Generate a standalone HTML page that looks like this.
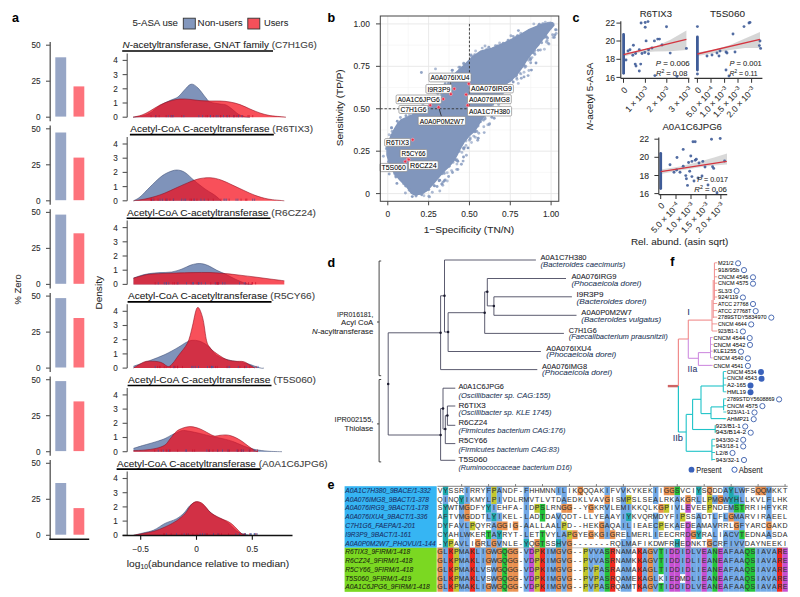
<!DOCTYPE html>
<html><head><meta charset="utf-8"><title>Figure</title>
<style>
html,body{margin:0;padding:0;background:#fff;}
body{width:800px;height:597px;overflow:hidden;}
svg{display:block;font-family:"Liberation Sans", sans-serif;}
text{stroke:rgba(20,20,20,0.35);stroke-width:0.22px;}
</style></head><body>
<svg width="800" height="597" viewBox="0 0 800 597" font-family='"Liberation Sans", sans-serif'>
<rect width="800" height="597" fill="#fff"/>
<text x="12.00" y="22.30" font-size="12.5" font-weight="bold" fill="#000" >a</text>
<text x="132.40" y="26.20" font-size="9.6" fill="#2b2b2b" textLength="45.60" lengthAdjust="spacingAndGlyphs" >5-ASA use</text>
<rect x="183.30" y="18.20" width="12.00" height="10.80" fill="#8397bd" stroke="#333" stroke-width="0.9"/>
<text x="197.60" y="26.20" font-size="9.6" fill="#2b2b2b" textLength="45.00" lengthAdjust="spacingAndGlyphs" >Non-users</text>
<rect x="247.80" y="18.20" width="12.00" height="10.80" fill="#f5505a" stroke="#333" stroke-width="0.9"/>
<text x="264.00" y="26.20" font-size="9.6" fill="#2b2b2b" textLength="24.30" lengthAdjust="spacingAndGlyphs" >Users</text>
<line x1="50.20" y1="42.00" x2="50.20" y2="121.20" stroke="#555" stroke-width="1.3" />
<line x1="46.00" y1="117.20" x2="50.20" y2="117.20" stroke="#555" stroke-width="1.1" />
<text x="40.60" y="120.10" font-size="8.2" text-anchor="end" fill="#2b2b2b" >0</text>
<line x1="46.00" y1="81.20" x2="50.20" y2="81.20" stroke="#555" stroke-width="1.1" />
<text x="40.60" y="84.10" font-size="8.2" text-anchor="end" fill="#2b2b2b" >25</text>
<line x1="46.00" y1="45.20" x2="50.20" y2="45.20" stroke="#555" stroke-width="1.1" />
<text x="40.60" y="48.10" font-size="8.2" text-anchor="end" fill="#2b2b2b" >50</text>
<rect x="55.30" y="57.30" width="10.90" height="59.30" fill="#97a6c6" />
<rect x="73.50" y="86.40" width="10.80" height="30.20" fill="#fd737c" />
<line x1="127.20" y1="53.40" x2="127.20" y2="117.20" stroke="#555" stroke-width="1.1" />
<line x1="122.60" y1="117.20" x2="127.20" y2="117.20" stroke="#555" stroke-width="1.1" />
<text x="117.80" y="120.10" font-size="8.2" text-anchor="end" fill="#2b2b2b" >0</text>
<line x1="122.60" y1="103.00" x2="127.20" y2="103.00" stroke="#555" stroke-width="1.1" />
<text x="117.80" y="105.90" font-size="8.2" text-anchor="end" fill="#2b2b2b" >1</text>
<line x1="122.60" y1="88.80" x2="127.20" y2="88.80" stroke="#555" stroke-width="1.1" />
<text x="117.80" y="91.70" font-size="8.2" text-anchor="end" fill="#2b2b2b" >2</text>
<line x1="122.60" y1="74.60" x2="127.20" y2="74.60" stroke="#555" stroke-width="1.1" />
<text x="117.80" y="77.50" font-size="8.2" text-anchor="end" fill="#2b2b2b" >3</text>
<line x1="122.60" y1="60.40" x2="127.20" y2="60.40" stroke="#555" stroke-width="1.1" />
<text x="117.80" y="63.30" font-size="8.2" text-anchor="end" fill="#2b2b2b" >4</text>
<text x="122.60" y="48.40" font-size="9.7" fill="#1a1a1a" textLength="194.20" lengthAdjust="spacingAndGlyphs"><tspan font-style="italic">N</tspan>-acetyltransferase, GNAT family<tspan fill="#444"> (C7H1G6)</tspan></text>
<line x1="122.20" y1="51.00" x2="273.00" y2="51.00" stroke="#000" stroke-width="1.6" />
<line x1="50.20" y1="125.60" x2="50.20" y2="204.80" stroke="#555" stroke-width="1.3" />
<line x1="46.00" y1="200.80" x2="50.20" y2="200.80" stroke="#555" stroke-width="1.1" />
<text x="40.60" y="203.70" font-size="8.2" text-anchor="end" fill="#2b2b2b" >0</text>
<line x1="46.00" y1="164.80" x2="50.20" y2="164.80" stroke="#555" stroke-width="1.1" />
<text x="40.60" y="167.70" font-size="8.2" text-anchor="end" fill="#2b2b2b" >25</text>
<line x1="46.00" y1="128.80" x2="50.20" y2="128.80" stroke="#555" stroke-width="1.1" />
<text x="40.60" y="131.70" font-size="8.2" text-anchor="end" fill="#2b2b2b" >50</text>
<rect x="55.30" y="132.50" width="10.90" height="67.70" fill="#97a6c6" />
<rect x="73.50" y="157.60" width="10.80" height="42.60" fill="#fd737c" />
<line x1="127.20" y1="137.00" x2="127.20" y2="200.80" stroke="#555" stroke-width="1.1" />
<line x1="122.60" y1="200.80" x2="127.20" y2="200.80" stroke="#555" stroke-width="1.1" />
<text x="117.80" y="203.70" font-size="8.2" text-anchor="end" fill="#2b2b2b" >0</text>
<line x1="122.60" y1="186.60" x2="127.20" y2="186.60" stroke="#555" stroke-width="1.1" />
<text x="117.80" y="189.50" font-size="8.2" text-anchor="end" fill="#2b2b2b" >1</text>
<line x1="122.60" y1="172.40" x2="127.20" y2="172.40" stroke="#555" stroke-width="1.1" />
<text x="117.80" y="175.30" font-size="8.2" text-anchor="end" fill="#2b2b2b" >2</text>
<line x1="122.60" y1="158.20" x2="127.20" y2="158.20" stroke="#555" stroke-width="1.1" />
<text x="117.80" y="161.10" font-size="8.2" text-anchor="end" fill="#2b2b2b" >3</text>
<line x1="122.60" y1="144.00" x2="127.20" y2="144.00" stroke="#555" stroke-width="1.1" />
<text x="117.80" y="146.90" font-size="8.2" text-anchor="end" fill="#2b2b2b" >4</text>
<text x="130.30" y="132.00" font-size="9.7" fill="#1a1a1a" textLength="182.70" lengthAdjust="spacingAndGlyphs">Acetyl-CoA C-acetyltransferase<tspan fill="#444"> (R6TIX3)</tspan></text>
<line x1="129.90" y1="134.60" x2="273.80" y2="134.60" stroke="#000" stroke-width="1.6" />
<line x1="50.20" y1="209.20" x2="50.20" y2="288.40" stroke="#555" stroke-width="1.3" />
<line x1="46.00" y1="284.40" x2="50.20" y2="284.40" stroke="#555" stroke-width="1.1" />
<text x="40.60" y="287.30" font-size="8.2" text-anchor="end" fill="#2b2b2b" >0</text>
<line x1="46.00" y1="248.40" x2="50.20" y2="248.40" stroke="#555" stroke-width="1.1" />
<text x="40.60" y="251.30" font-size="8.2" text-anchor="end" fill="#2b2b2b" >25</text>
<line x1="46.00" y1="212.40" x2="50.20" y2="212.40" stroke="#555" stroke-width="1.1" />
<text x="40.60" y="215.30" font-size="8.2" text-anchor="end" fill="#2b2b2b" >50</text>
<rect x="55.30" y="214.60" width="10.90" height="69.20" fill="#97a6c6" />
<rect x="73.50" y="233.30" width="10.80" height="50.50" fill="#fd737c" />
<line x1="127.20" y1="220.60" x2="127.20" y2="284.40" stroke="#555" stroke-width="1.1" />
<line x1="122.60" y1="284.40" x2="127.20" y2="284.40" stroke="#555" stroke-width="1.1" />
<text x="117.80" y="287.30" font-size="8.2" text-anchor="end" fill="#2b2b2b" >0</text>
<line x1="122.60" y1="270.20" x2="127.20" y2="270.20" stroke="#555" stroke-width="1.1" />
<text x="117.80" y="273.10" font-size="8.2" text-anchor="end" fill="#2b2b2b" >1</text>
<line x1="122.60" y1="256.00" x2="127.20" y2="256.00" stroke="#555" stroke-width="1.1" />
<text x="117.80" y="258.90" font-size="8.2" text-anchor="end" fill="#2b2b2b" >2</text>
<line x1="122.60" y1="241.80" x2="127.20" y2="241.80" stroke="#555" stroke-width="1.1" />
<text x="117.80" y="244.70" font-size="8.2" text-anchor="end" fill="#2b2b2b" >3</text>
<line x1="122.60" y1="227.60" x2="127.20" y2="227.60" stroke="#555" stroke-width="1.1" />
<text x="117.80" y="230.50" font-size="8.2" text-anchor="end" fill="#2b2b2b" >4</text>
<text x="127.00" y="215.60" font-size="9.7" fill="#1a1a1a" textLength="189.00" lengthAdjust="spacingAndGlyphs">Acetyl-CoA C-acetyltransferase<tspan fill="#444"> (R6CZ24)</tspan></text>
<line x1="126.60" y1="218.20" x2="270.50" y2="218.20" stroke="#000" stroke-width="1.6" />
<line x1="50.20" y1="292.90" x2="50.20" y2="372.10" stroke="#555" stroke-width="1.3" />
<line x1="46.00" y1="368.10" x2="50.20" y2="368.10" stroke="#555" stroke-width="1.1" />
<text x="40.60" y="371.00" font-size="8.2" text-anchor="end" fill="#2b2b2b" >0</text>
<line x1="46.00" y1="332.10" x2="50.20" y2="332.10" stroke="#555" stroke-width="1.1" />
<text x="40.60" y="335.00" font-size="8.2" text-anchor="end" fill="#2b2b2b" >25</text>
<line x1="46.00" y1="296.10" x2="50.20" y2="296.10" stroke="#555" stroke-width="1.1" />
<text x="40.60" y="299.00" font-size="8.2" text-anchor="end" fill="#2b2b2b" >50</text>
<rect x="55.30" y="298.10" width="10.90" height="69.40" fill="#97a6c6" />
<rect x="73.50" y="318.00" width="10.80" height="49.50" fill="#fd737c" />
<line x1="127.20" y1="304.30" x2="127.20" y2="368.10" stroke="#555" stroke-width="1.1" />
<line x1="122.60" y1="368.10" x2="127.20" y2="368.10" stroke="#555" stroke-width="1.1" />
<text x="117.80" y="371.00" font-size="8.2" text-anchor="end" fill="#2b2b2b" >0</text>
<line x1="122.60" y1="353.90" x2="127.20" y2="353.90" stroke="#555" stroke-width="1.1" />
<text x="117.80" y="356.80" font-size="8.2" text-anchor="end" fill="#2b2b2b" >1</text>
<line x1="122.60" y1="339.70" x2="127.20" y2="339.70" stroke="#555" stroke-width="1.1" />
<text x="117.80" y="342.60" font-size="8.2" text-anchor="end" fill="#2b2b2b" >2</text>
<line x1="122.60" y1="325.50" x2="127.20" y2="325.50" stroke="#555" stroke-width="1.1" />
<text x="117.80" y="328.40" font-size="8.2" text-anchor="end" fill="#2b2b2b" >3</text>
<line x1="122.60" y1="311.30" x2="127.20" y2="311.30" stroke="#555" stroke-width="1.1" />
<text x="117.80" y="314.20" font-size="8.2" text-anchor="end" fill="#2b2b2b" >4</text>
<text x="128.00" y="299.30" font-size="9.7" fill="#1a1a1a" textLength="187.00" lengthAdjust="spacingAndGlyphs">Acetyl-CoA C-acetyltransferase<tspan fill="#444"> (R5CY66)</tspan></text>
<line x1="127.60" y1="301.90" x2="271.50" y2="301.90" stroke="#000" stroke-width="1.6" />
<line x1="50.20" y1="376.50" x2="50.20" y2="455.70" stroke="#555" stroke-width="1.3" />
<line x1="46.00" y1="451.70" x2="50.20" y2="451.70" stroke="#555" stroke-width="1.1" />
<text x="40.60" y="454.60" font-size="8.2" text-anchor="end" fill="#2b2b2b" >0</text>
<line x1="46.00" y1="415.70" x2="50.20" y2="415.70" stroke="#555" stroke-width="1.1" />
<text x="40.60" y="418.60" font-size="8.2" text-anchor="end" fill="#2b2b2b" >25</text>
<line x1="46.00" y1="379.70" x2="50.20" y2="379.70" stroke="#555" stroke-width="1.1" />
<text x="40.60" y="382.60" font-size="8.2" text-anchor="end" fill="#2b2b2b" >50</text>
<rect x="55.30" y="381.10" width="10.90" height="70.00" fill="#97a6c6" />
<rect x="73.50" y="401.40" width="10.80" height="49.70" fill="#fd737c" />
<line x1="127.20" y1="387.90" x2="127.20" y2="451.70" stroke="#555" stroke-width="1.1" />
<line x1="122.60" y1="451.70" x2="127.20" y2="451.70" stroke="#555" stroke-width="1.1" />
<text x="117.80" y="454.60" font-size="8.2" text-anchor="end" fill="#2b2b2b" >0</text>
<line x1="122.60" y1="437.50" x2="127.20" y2="437.50" stroke="#555" stroke-width="1.1" />
<text x="117.80" y="440.40" font-size="8.2" text-anchor="end" fill="#2b2b2b" >1</text>
<line x1="122.60" y1="423.30" x2="127.20" y2="423.30" stroke="#555" stroke-width="1.1" />
<text x="117.80" y="426.20" font-size="8.2" text-anchor="end" fill="#2b2b2b" >2</text>
<line x1="122.60" y1="409.10" x2="127.20" y2="409.10" stroke="#555" stroke-width="1.1" />
<text x="117.80" y="412.00" font-size="8.2" text-anchor="end" fill="#2b2b2b" >3</text>
<line x1="122.60" y1="394.90" x2="127.20" y2="394.90" stroke="#555" stroke-width="1.1" />
<text x="117.80" y="397.80" font-size="8.2" text-anchor="end" fill="#2b2b2b" >4</text>
<text x="128.00" y="382.90" font-size="9.7" fill="#1a1a1a" textLength="188.00" lengthAdjust="spacingAndGlyphs">Acetyl-CoA C-acetyltransferase<tspan fill="#444"> (T5S060)</tspan></text>
<line x1="127.60" y1="385.50" x2="271.50" y2="385.50" stroke="#000" stroke-width="1.6" />
<line x1="50.20" y1="460.10" x2="50.20" y2="539.30" stroke="#555" stroke-width="1.3" />
<line x1="46.00" y1="535.30" x2="50.20" y2="535.30" stroke="#555" stroke-width="1.1" />
<text x="40.60" y="538.20" font-size="8.2" text-anchor="end" fill="#2b2b2b" >0</text>
<line x1="46.00" y1="499.30" x2="50.20" y2="499.30" stroke="#555" stroke-width="1.1" />
<text x="40.60" y="502.20" font-size="8.2" text-anchor="end" fill="#2b2b2b" >25</text>
<line x1="46.00" y1="463.30" x2="50.20" y2="463.30" stroke="#555" stroke-width="1.1" />
<text x="40.60" y="466.20" font-size="8.2" text-anchor="end" fill="#2b2b2b" >50</text>
<rect x="55.30" y="483.00" width="10.90" height="51.70" fill="#97a6c6" />
<rect x="73.50" y="508.10" width="10.80" height="26.60" fill="#fd737c" />
<line x1="127.20" y1="471.50" x2="127.20" y2="535.30" stroke="#555" stroke-width="1.1" />
<line x1="122.60" y1="535.30" x2="127.20" y2="535.30" stroke="#555" stroke-width="1.1" />
<text x="117.80" y="538.20" font-size="8.2" text-anchor="end" fill="#2b2b2b" >0</text>
<line x1="122.60" y1="521.10" x2="127.20" y2="521.10" stroke="#555" stroke-width="1.1" />
<text x="117.80" y="524.00" font-size="8.2" text-anchor="end" fill="#2b2b2b" >1</text>
<line x1="122.60" y1="506.90" x2="127.20" y2="506.90" stroke="#555" stroke-width="1.1" />
<text x="117.80" y="509.80" font-size="8.2" text-anchor="end" fill="#2b2b2b" >2</text>
<line x1="122.60" y1="492.70" x2="127.20" y2="492.70" stroke="#555" stroke-width="1.1" />
<text x="117.80" y="495.60" font-size="8.2" text-anchor="end" fill="#2b2b2b" >3</text>
<line x1="122.60" y1="478.50" x2="127.20" y2="478.50" stroke="#555" stroke-width="1.1" />
<text x="117.80" y="481.40" font-size="8.2" text-anchor="end" fill="#2b2b2b" >4</text>
<text x="117.00" y="466.50" font-size="9.7" fill="#1a1a1a" textLength="210.60" lengthAdjust="spacingAndGlyphs">Acetyl-CoA C-acetyltransferase<tspan fill="#444"> (A0A1C6JPG6)</tspan></text>
<line x1="116.60" y1="469.10" x2="260.50" y2="469.10" stroke="#000" stroke-width="1.6" />
<line x1="49.30" y1="539.20" x2="89.20" y2="539.20" stroke="#111" stroke-width="1.5" />
<path d="M133.00,117.20 C134.50,117.00 139.17,116.70 142.00,116.00 C144.83,115.30 147.00,114.75 150.00,113.00 C153.00,111.25 156.67,107.58 160.00,105.50 C163.33,103.42 167.00,101.92 170.00,100.50 C173.00,99.08 175.67,98.67 178.00,97.00 C180.33,95.33 181.83,92.63 184.00,90.50 C186.17,88.37 188.67,84.62 191.00,84.20 C193.33,83.78 195.50,85.70 198.00,88.00 C200.50,90.30 204.00,95.67 206.00,98.00 C208.00,100.33 207.67,101.00 210.00,102.00 C212.33,103.00 217.33,103.50 220.00,104.00 C222.67,104.50 224.00,104.17 226.00,105.00 C228.00,105.83 230.00,107.50 232.00,109.00 C234.00,110.50 236.00,112.73 238.00,114.00 C240.00,115.27 242.00,116.07 244.00,116.60 C246.00,117.13 249.00,117.10 250.00,117.20 L250.00,117.20 L133.00,117.20 Z" fill="#7f93ba" stroke="none"/>
<path d="M133.00,117.20 C134.50,117.00 139.17,116.70 142.00,116.00 C144.83,115.30 147.00,114.75 150.00,113.00 C153.00,111.25 156.67,107.58 160.00,105.50 C163.33,103.42 167.00,101.92 170.00,100.50 C173.00,99.08 175.67,98.67 178.00,97.00 C180.33,95.33 181.83,92.63 184.00,90.50 C186.17,88.37 188.67,84.62 191.00,84.20 C193.33,83.78 195.50,85.70 198.00,88.00 C200.50,90.30 204.00,95.67 206.00,98.00 C208.00,100.33 207.67,101.00 210.00,102.00 C212.33,103.00 217.33,103.50 220.00,104.00 C222.67,104.50 224.00,104.17 226.00,105.00 C228.00,105.83 230.00,107.50 232.00,109.00 C234.00,110.50 236.00,112.73 238.00,114.00 C240.00,115.27 242.00,116.07 244.00,116.60 C246.00,117.13 249.00,117.10 250.00,117.20" fill="none" stroke="#3d4d75" stroke-width="0.7" stroke-opacity="0.8"/>
<path d="M133.00,117.20 C134.50,116.83 139.17,116.03 142.00,115.00 C144.83,113.97 147.00,112.67 150.00,111.00 C153.00,109.33 156.67,106.67 160.00,105.00 C163.33,103.33 166.67,102.00 170.00,101.00 C173.33,100.00 176.67,99.27 180.00,99.00 C183.33,98.73 186.67,99.13 190.00,99.40 C193.33,99.67 196.67,100.33 200.00,100.60 C203.33,100.87 206.67,100.93 210.00,101.00 C213.33,101.07 216.67,100.83 220.00,101.00 C223.33,101.17 226.67,101.40 230.00,102.00 C233.33,102.60 236.67,103.43 240.00,104.60 C243.33,105.77 246.67,107.60 250.00,109.00 C253.33,110.40 256.67,111.90 260.00,113.00 C263.33,114.10 266.67,115.00 270.00,115.60 C273.33,116.20 277.33,116.33 280.00,116.60 C282.67,116.87 285.00,117.10 286.00,117.20 L286.00,117.20 L133.00,117.20 Z" fill="rgba(245,5,20,0.70)" stroke="none"/>
<path d="M133.00,117.20 C134.50,116.83 139.17,116.03 142.00,115.00 C144.83,113.97 147.00,112.67 150.00,111.00 C153.00,109.33 156.67,106.67 160.00,105.00 C163.33,103.33 166.67,102.00 170.00,101.00 C173.33,100.00 176.67,99.27 180.00,99.00 C183.33,98.73 186.67,99.13 190.00,99.40 C193.33,99.67 196.67,100.33 200.00,100.60 C203.33,100.87 206.67,100.93 210.00,101.00 C213.33,101.07 216.67,100.83 220.00,101.00 C223.33,101.17 226.67,101.40 230.00,102.00 C233.33,102.60 236.67,103.43 240.00,104.60 C243.33,105.77 246.67,107.60 250.00,109.00 C253.33,110.40 256.67,111.90 260.00,113.00 C263.33,114.10 266.67,115.00 270.00,115.60 C273.33,116.20 277.33,116.33 280.00,116.60 C282.67,116.87 285.00,117.10 286.00,117.20" fill="none" stroke="#8e0c1e" stroke-width="0.7" stroke-opacity="0.8"/>
<rect x="165.7" y="115.00" width="0.9" height="2.2" fill="#c8102e" opacity="0.75"/>
<rect x="233.2" y="115.00" width="0.9" height="2.2" fill="#3a56a0" opacity="0.75"/>
<rect x="229.1" y="115.00" width="0.9" height="2.2" fill="#c8102e" opacity="0.75"/>
<rect x="236.4" y="115.00" width="0.9" height="2.2" fill="#c8102e" opacity="0.75"/>
<rect x="158.7" y="115.00" width="0.9" height="2.2" fill="#c8102e" opacity="0.75"/>
<rect x="155.2" y="115.00" width="0.9" height="2.2" fill="#3a56a0" opacity="0.75"/>
<rect x="252.3" y="115.00" width="0.9" height="2.2" fill="#c8102e" opacity="0.75"/>
<rect x="183.4" y="115.00" width="0.9" height="2.2" fill="#3a56a0" opacity="0.75"/>
<rect x="172.0" y="115.00" width="0.9" height="2.2" fill="#c8102e" opacity="0.75"/>
<rect x="170.4" y="115.00" width="0.9" height="2.2" fill="#c8102e" opacity="0.75"/>
<rect x="217.6" y="115.00" width="0.9" height="2.2" fill="#3a56a0" opacity="0.75"/>
<rect x="172.8" y="115.00" width="0.9" height="2.2" fill="#3a56a0" opacity="0.75"/>
<rect x="210.0" y="115.00" width="0.9" height="2.2" fill="#3a56a0" opacity="0.75"/>
<rect x="238.3" y="115.00" width="0.9" height="2.2" fill="#c8102e" opacity="0.75"/>
<rect x="220.0" y="115.00" width="0.9" height="2.2" fill="#c8102e" opacity="0.75"/>
<rect x="150.6" y="115.00" width="0.9" height="2.2" fill="#c8102e" opacity="0.75"/>
<rect x="233.5" y="115.00" width="0.9" height="2.2" fill="#c8102e" opacity="0.75"/>
<rect x="170.8" y="115.00" width="0.9" height="2.2" fill="#3a56a0" opacity="0.75"/>
<rect x="248.7" y="115.00" width="0.9" height="2.2" fill="#c8102e" opacity="0.75"/>
<rect x="198.4" y="115.00" width="0.9" height="2.2" fill="#3a56a0" opacity="0.75"/>
<rect x="247.5" y="115.00" width="0.9" height="2.2" fill="#c8102e" opacity="0.75"/>
<rect x="209.8" y="115.00" width="0.9" height="2.2" fill="#3a56a0" opacity="0.75"/>
<rect x="215.8" y="115.00" width="0.9" height="2.2" fill="#3a56a0" opacity="0.75"/>
<rect x="233.7" y="115.00" width="0.9" height="2.2" fill="#c8102e" opacity="0.75"/>
<rect x="181.3" y="115.00" width="0.9" height="2.2" fill="#c8102e" opacity="0.75"/>
<rect x="207.0" y="115.00" width="0.9" height="2.2" fill="#c8102e" opacity="0.75"/>
<rect x="242.3" y="115.00" width="0.9" height="2.2" fill="#c8102e" opacity="0.75"/>
<rect x="202.2" y="115.00" width="0.9" height="2.2" fill="#3a56a0" opacity="0.75"/>
<rect x="237.9" y="115.00" width="0.9" height="2.2" fill="#3a56a0" opacity="0.75"/>
<rect x="220.4" y="115.00" width="0.9" height="2.2" fill="#c8102e" opacity="0.75"/>
<rect x="241.5" y="115.00" width="0.9" height="2.2" fill="#3a56a0" opacity="0.75"/>
<rect x="227.2" y="115.00" width="0.9" height="2.2" fill="#3a56a0" opacity="0.75"/>
<rect x="205.5" y="115.00" width="0.9" height="2.2" fill="#c8102e" opacity="0.75"/>
<rect x="212.9" y="115.00" width="0.9" height="2.2" fill="#c8102e" opacity="0.75"/>
<rect x="223.0" y="115.00" width="0.9" height="2.2" fill="#3a56a0" opacity="0.75"/>
<rect x="167.8" y="115.00" width="0.9" height="2.2" fill="#3a56a0" opacity="0.75"/>
<rect x="226.3" y="115.00" width="0.9" height="2.2" fill="#c8102e" opacity="0.75"/>
<rect x="155.5" y="115.00" width="0.9" height="2.2" fill="#c8102e" opacity="0.75"/>
<path d="M133.50,200.80 C134.58,200.17 137.25,199.30 140.00,197.00 C142.75,194.70 146.67,190.25 150.00,187.00 C153.33,183.75 157.00,179.92 160.00,177.50 C163.00,175.08 165.22,173.75 168.00,172.50 C170.78,171.25 173.87,170.00 176.70,170.00 C179.53,170.00 182.07,170.73 185.00,172.50 C187.93,174.27 190.97,177.85 194.30,180.60 C197.63,183.35 201.63,186.60 205.00,189.00 C208.37,191.40 211.78,193.03 214.50,195.00 C217.22,196.97 220.17,199.83 221.30,200.80 L221.30,200.80 L133.50,200.80 Z" fill="#7f93ba" stroke="none"/>
<path d="M133.50,200.80 C134.58,200.17 137.25,199.30 140.00,197.00 C142.75,194.70 146.67,190.25 150.00,187.00 C153.33,183.75 157.00,179.92 160.00,177.50 C163.00,175.08 165.22,173.75 168.00,172.50 C170.78,171.25 173.87,170.00 176.70,170.00 C179.53,170.00 182.07,170.73 185.00,172.50 C187.93,174.27 190.97,177.85 194.30,180.60 C197.63,183.35 201.63,186.60 205.00,189.00 C208.37,191.40 211.78,193.03 214.50,195.00 C217.22,196.97 220.17,199.83 221.30,200.80" fill="none" stroke="#3d4d75" stroke-width="0.7" stroke-opacity="0.8"/>
<path d="M133.50,200.80 C135.42,200.50 141.42,199.72 145.00,199.00 C148.58,198.28 151.67,197.50 155.00,196.50 C158.33,195.50 161.50,194.42 165.00,193.00 C168.50,191.58 172.25,189.68 176.00,188.00 C179.75,186.32 183.83,184.40 187.50,182.90 C191.17,181.40 194.25,179.87 198.00,179.00 C201.75,178.13 206.17,177.53 210.00,177.70 C213.83,177.87 217.25,178.77 221.00,180.00 C224.75,181.23 228.67,183.35 232.50,185.10 C236.33,186.85 240.25,188.80 244.00,190.50 C247.75,192.20 251.00,193.88 255.00,195.30 C259.00,196.72 263.12,198.08 268.00,199.00 C272.88,199.92 281.58,200.50 284.30,200.80 L284.30,200.80 L133.50,200.80 Z" fill="rgba(245,5,20,0.70)" stroke="none"/>
<path d="M133.50,200.80 C135.42,200.50 141.42,199.72 145.00,199.00 C148.58,198.28 151.67,197.50 155.00,196.50 C158.33,195.50 161.50,194.42 165.00,193.00 C168.50,191.58 172.25,189.68 176.00,188.00 C179.75,186.32 183.83,184.40 187.50,182.90 C191.17,181.40 194.25,179.87 198.00,179.00 C201.75,178.13 206.17,177.53 210.00,177.70 C213.83,177.87 217.25,178.77 221.00,180.00 C224.75,181.23 228.67,183.35 232.50,185.10 C236.33,186.85 240.25,188.80 244.00,190.50 C247.75,192.20 251.00,193.88 255.00,195.30 C259.00,196.72 263.12,198.08 268.00,199.00 C272.88,199.92 281.58,200.50 284.30,200.80" fill="none" stroke="#8e0c1e" stroke-width="0.7" stroke-opacity="0.8"/>
<rect x="212.8" y="198.60" width="0.9" height="2.2" fill="#c8102e" opacity="0.75"/>
<rect x="254.2" y="198.60" width="0.9" height="2.2" fill="#3a56a0" opacity="0.75"/>
<rect x="200.5" y="198.60" width="0.9" height="2.2" fill="#3a56a0" opacity="0.75"/>
<rect x="173.2" y="198.60" width="0.9" height="2.2" fill="#c8102e" opacity="0.75"/>
<rect x="181.2" y="198.60" width="0.9" height="2.2" fill="#3a56a0" opacity="0.75"/>
<rect x="172.9" y="198.60" width="0.9" height="2.2" fill="#3a56a0" opacity="0.75"/>
<rect x="157.6" y="198.60" width="0.9" height="2.2" fill="#c8102e" opacity="0.75"/>
<rect x="159.6" y="198.60" width="0.9" height="2.2" fill="#3a56a0" opacity="0.75"/>
<rect x="189.6" y="198.60" width="0.9" height="2.2" fill="#c8102e" opacity="0.75"/>
<rect x="185.2" y="198.60" width="0.9" height="2.2" fill="#3a56a0" opacity="0.75"/>
<rect x="193.6" y="198.60" width="0.9" height="2.2" fill="#c8102e" opacity="0.75"/>
<rect x="196.5" y="198.60" width="0.9" height="2.2" fill="#c8102e" opacity="0.75"/>
<rect x="162.0" y="198.60" width="0.9" height="2.2" fill="#3a56a0" opacity="0.75"/>
<rect x="223.5" y="198.60" width="0.9" height="2.2" fill="#3a56a0" opacity="0.75"/>
<rect x="245.3" y="198.60" width="0.9" height="2.2" fill="#c8102e" opacity="0.75"/>
<rect x="191.0" y="198.60" width="0.9" height="2.2" fill="#c8102e" opacity="0.75"/>
<rect x="193.7" y="198.60" width="0.9" height="2.2" fill="#3a56a0" opacity="0.75"/>
<rect x="150.7" y="198.60" width="0.9" height="2.2" fill="#c8102e" opacity="0.75"/>
<rect x="207.8" y="198.60" width="0.9" height="2.2" fill="#c8102e" opacity="0.75"/>
<rect x="152.4" y="198.60" width="0.9" height="2.2" fill="#3a56a0" opacity="0.75"/>
<rect x="151.0" y="198.60" width="0.9" height="2.2" fill="#c8102e" opacity="0.75"/>
<rect x="166.6" y="198.60" width="0.9" height="2.2" fill="#c8102e" opacity="0.75"/>
<rect x="169.5" y="198.60" width="0.9" height="2.2" fill="#c8102e" opacity="0.75"/>
<rect x="166.3" y="198.60" width="0.9" height="2.2" fill="#3a56a0" opacity="0.75"/>
<rect x="228.7" y="198.60" width="0.9" height="2.2" fill="#c8102e" opacity="0.75"/>
<rect x="220.5" y="198.60" width="0.9" height="2.2" fill="#c8102e" opacity="0.75"/>
<rect x="203.8" y="198.60" width="0.9" height="2.2" fill="#3a56a0" opacity="0.75"/>
<rect x="183.6" y="198.60" width="0.9" height="2.2" fill="#3a56a0" opacity="0.75"/>
<rect x="224.6" y="198.60" width="0.9" height="2.2" fill="#3a56a0" opacity="0.75"/>
<rect x="150.6" y="198.60" width="0.9" height="2.2" fill="#c8102e" opacity="0.75"/>
<rect x="153.5" y="198.60" width="0.9" height="2.2" fill="#c8102e" opacity="0.75"/>
<rect x="252.2" y="198.60" width="0.9" height="2.2" fill="#3a56a0" opacity="0.75"/>
<rect x="240.6" y="198.60" width="0.9" height="2.2" fill="#c8102e" opacity="0.75"/>
<rect x="226.2" y="198.60" width="0.9" height="2.2" fill="#3a56a0" opacity="0.75"/>
<rect x="237.4" y="198.60" width="0.9" height="2.2" fill="#3a56a0" opacity="0.75"/>
<rect x="165.2" y="198.60" width="0.9" height="2.2" fill="#c8102e" opacity="0.75"/>
<rect x="235.6" y="198.60" width="0.9" height="2.2" fill="#3a56a0" opacity="0.75"/>
<rect x="246.4" y="198.60" width="0.9" height="2.2" fill="#c8102e" opacity="0.75"/>
<path d="M133.50,278.10 C134.75,277.67 138.37,276.25 141.00,275.50 C143.63,274.75 146.13,274.08 149.30,273.60 C152.47,273.12 156.25,272.87 160.00,272.60 C163.75,272.33 168.13,272.60 171.80,272.00 C175.47,271.40 178.80,270.17 182.00,269.00 C185.20,267.83 188.02,265.92 191.00,265.00 C193.98,264.08 197.07,263.42 199.90,263.50 C202.73,263.58 205.18,264.37 208.00,265.50 C210.82,266.63 213.83,268.83 216.80,270.30 C219.77,271.77 222.77,272.85 225.80,274.30 C228.83,275.75 231.63,277.45 235.00,279.00 C238.37,280.55 243.17,282.70 246.00,283.60 C248.83,284.50 251.00,284.27 252.00,284.40 L252.00,284.40 L133.50,284.40 Z" fill="#7f93ba" stroke="none"/>
<path d="M133.50,278.10 C134.75,277.67 138.37,276.25 141.00,275.50 C143.63,274.75 146.13,274.08 149.30,273.60 C152.47,273.12 156.25,272.87 160.00,272.60 C163.75,272.33 168.13,272.60 171.80,272.00 C175.47,271.40 178.80,270.17 182.00,269.00 C185.20,267.83 188.02,265.92 191.00,265.00 C193.98,264.08 197.07,263.42 199.90,263.50 C202.73,263.58 205.18,264.37 208.00,265.50 C210.82,266.63 213.83,268.83 216.80,270.30 C219.77,271.77 222.77,272.85 225.80,274.30 C228.83,275.75 231.63,277.45 235.00,279.00 C238.37,280.55 243.17,282.70 246.00,283.60 C248.83,284.50 251.00,284.27 252.00,284.40" fill="none" stroke="#3d4d75" stroke-width="0.7" stroke-opacity="0.8"/>
<path d="M133.50,278.10 C134.75,277.75 138.42,276.63 141.00,276.00 C143.58,275.37 145.50,274.72 149.00,274.30 C152.50,273.88 157.45,273.72 162.00,273.50 C166.55,273.28 171.13,273.15 176.30,273.00 C181.47,272.85 187.38,272.68 193.00,272.60 C198.62,272.52 204.53,272.33 210.00,272.50 C215.47,272.67 220.80,273.15 225.80,273.60 C230.80,274.05 235.13,274.63 240.00,275.20 C244.87,275.77 250.00,276.37 255.00,277.00 C260.00,277.63 265.12,278.37 270.00,279.00 C274.88,279.63 281.92,280.50 284.30,280.80 L284.30,284.40 L133.50,284.40 Z" fill="rgba(245,5,20,0.70)" stroke="none"/>
<path d="M133.50,278.10 C134.75,277.75 138.42,276.63 141.00,276.00 C143.58,275.37 145.50,274.72 149.00,274.30 C152.50,273.88 157.45,273.72 162.00,273.50 C166.55,273.28 171.13,273.15 176.30,273.00 C181.47,272.85 187.38,272.68 193.00,272.60 C198.62,272.52 204.53,272.33 210.00,272.50 C215.47,272.67 220.80,273.15 225.80,273.60 C230.80,274.05 235.13,274.63 240.00,275.20 C244.87,275.77 250.00,276.37 255.00,277.00 C260.00,277.63 265.12,278.37 270.00,279.00 C274.88,279.63 281.92,280.50 284.30,280.80" fill="none" stroke="#8e0c1e" stroke-width="0.7" stroke-opacity="0.8"/>
<rect x="166.0" y="282.20" width="0.9" height="2.2" fill="#3a56a0" opacity="0.75"/>
<rect x="168.3" y="282.20" width="0.9" height="2.2" fill="#3a56a0" opacity="0.75"/>
<rect x="215.6" y="282.20" width="0.9" height="2.2" fill="#c8102e" opacity="0.75"/>
<rect x="216.7" y="282.20" width="0.9" height="2.2" fill="#c8102e" opacity="0.75"/>
<rect x="154.7" y="282.20" width="0.9" height="2.2" fill="#c8102e" opacity="0.75"/>
<rect x="216.9" y="282.20" width="0.9" height="2.2" fill="#c8102e" opacity="0.75"/>
<rect x="245.0" y="282.20" width="0.9" height="2.2" fill="#3a56a0" opacity="0.75"/>
<rect x="190.7" y="282.20" width="0.9" height="2.2" fill="#c8102e" opacity="0.75"/>
<rect x="163.8" y="282.20" width="0.9" height="2.2" fill="#3a56a0" opacity="0.75"/>
<rect x="224.5" y="282.20" width="0.9" height="2.2" fill="#3a56a0" opacity="0.75"/>
<rect x="197.7" y="282.20" width="0.9" height="2.2" fill="#c8102e" opacity="0.75"/>
<rect x="174.0" y="282.20" width="0.9" height="2.2" fill="#c8102e" opacity="0.75"/>
<rect x="165.7" y="282.20" width="0.9" height="2.2" fill="#3a56a0" opacity="0.75"/>
<rect x="218.1" y="282.20" width="0.9" height="2.2" fill="#3a56a0" opacity="0.75"/>
<rect x="176.6" y="282.20" width="0.9" height="2.2" fill="#c8102e" opacity="0.75"/>
<rect x="186.0" y="282.20" width="0.9" height="2.2" fill="#3a56a0" opacity="0.75"/>
<rect x="205.1" y="282.20" width="0.9" height="2.2" fill="#3a56a0" opacity="0.75"/>
<rect x="196.6" y="282.20" width="0.9" height="2.2" fill="#c8102e" opacity="0.75"/>
<rect x="248.0" y="282.20" width="0.9" height="2.2" fill="#c8102e" opacity="0.75"/>
<rect x="172.4" y="282.20" width="0.9" height="2.2" fill="#c8102e" opacity="0.75"/>
<rect x="218.2" y="282.20" width="0.9" height="2.2" fill="#c8102e" opacity="0.75"/>
<rect x="210.3" y="282.20" width="0.9" height="2.2" fill="#c8102e" opacity="0.75"/>
<rect x="222.2" y="282.20" width="0.9" height="2.2" fill="#3a56a0" opacity="0.75"/>
<rect x="239.1" y="282.20" width="0.9" height="2.2" fill="#3a56a0" opacity="0.75"/>
<rect x="200.8" y="282.20" width="0.9" height="2.2" fill="#3a56a0" opacity="0.75"/>
<rect x="198.3" y="282.20" width="0.9" height="2.2" fill="#3a56a0" opacity="0.75"/>
<rect x="243.8" y="282.20" width="0.9" height="2.2" fill="#3a56a0" opacity="0.75"/>
<rect x="192.2" y="282.20" width="0.9" height="2.2" fill="#3a56a0" opacity="0.75"/>
<rect x="214.8" y="282.20" width="0.9" height="2.2" fill="#3a56a0" opacity="0.75"/>
<rect x="217.3" y="282.20" width="0.9" height="2.2" fill="#c8102e" opacity="0.75"/>
<rect x="255.2" y="282.20" width="0.9" height="2.2" fill="#c8102e" opacity="0.75"/>
<rect x="193.0" y="282.20" width="0.9" height="2.2" fill="#3a56a0" opacity="0.75"/>
<rect x="252.0" y="282.20" width="0.9" height="2.2" fill="#c8102e" opacity="0.75"/>
<rect x="157.8" y="282.20" width="0.9" height="2.2" fill="#3a56a0" opacity="0.75"/>
<rect x="245.3" y="282.20" width="0.9" height="2.2" fill="#c8102e" opacity="0.75"/>
<rect x="177.5" y="282.20" width="0.9" height="2.2" fill="#3a56a0" opacity="0.75"/>
<rect x="251.5" y="282.20" width="0.9" height="2.2" fill="#c8102e" opacity="0.75"/>
<rect x="198.4" y="282.20" width="0.9" height="2.2" fill="#3a56a0" opacity="0.75"/>
<path d="M133.50,366.20 C136.25,365.25 144.75,362.45 150.00,360.50 C155.25,358.55 160.33,356.67 165.00,354.50 C169.67,352.33 174.50,349.50 178.00,347.50 C181.50,345.50 183.67,343.70 186.00,342.50 C188.33,341.30 189.83,340.55 192.00,340.30 C194.17,340.05 196.75,340.37 199.00,341.00 C201.25,341.63 203.50,342.77 205.50,344.10 C207.50,345.43 209.12,347.12 211.00,349.00 C212.88,350.88 213.97,353.58 216.80,355.40 C219.63,357.22 223.13,358.58 228.00,359.90 C232.87,361.22 240.75,361.98 246.00,363.30 C251.25,364.62 256.50,367.00 259.50,367.80 C262.50,368.60 263.25,368.05 264.00,368.10 L264.00,368.10 L133.50,368.10 Z" fill="#7f93ba" stroke="none"/>
<path d="M133.50,366.20 C136.25,365.25 144.75,362.45 150.00,360.50 C155.25,358.55 160.33,356.67 165.00,354.50 C169.67,352.33 174.50,349.50 178.00,347.50 C181.50,345.50 183.67,343.70 186.00,342.50 C188.33,341.30 189.83,340.55 192.00,340.30 C194.17,340.05 196.75,340.37 199.00,341.00 C201.25,341.63 203.50,342.77 205.50,344.10 C207.50,345.43 209.12,347.12 211.00,349.00 C212.88,350.88 213.97,353.58 216.80,355.40 C219.63,357.22 223.13,358.58 228.00,359.90 C232.87,361.22 240.75,361.98 246.00,363.30 C251.25,364.62 256.50,367.00 259.50,367.80 C262.50,368.60 263.25,368.05 264.00,368.10" fill="none" stroke="#3d4d75" stroke-width="0.7" stroke-opacity="0.8"/>
<path d="M133.50,368.10 C134.25,367.63 136.12,366.37 138.00,365.30 C139.88,364.23 142.63,362.38 144.80,361.70 C146.97,361.02 148.75,361.20 151.00,361.20 C153.25,361.20 156.33,361.35 158.30,361.70 C160.27,362.05 161.12,362.48 162.80,363.30 C164.48,364.12 166.70,366.65 168.40,366.60 C170.10,366.55 171.32,364.87 173.00,363.00 C174.68,361.13 176.08,358.73 178.50,355.40 C180.92,352.07 185.25,347.57 187.50,343.00 C189.75,338.43 190.67,333.17 192.00,328.00 C193.33,322.83 194.57,315.42 195.50,312.00 C196.43,308.58 196.85,307.83 197.60,307.50 C198.35,307.17 199.05,307.83 200.00,310.00 C200.95,312.17 202.20,315.37 203.30,320.50 C204.40,325.63 205.48,336.30 206.60,340.80 C207.72,345.30 208.68,345.63 210.00,347.50 C211.32,349.37 211.87,350.05 214.50,352.00 C217.13,353.95 222.38,357.67 225.80,359.20 C229.22,360.73 232.00,360.78 235.00,361.20 C238.00,361.62 241.22,360.98 243.80,361.70 C246.38,362.42 248.63,364.43 250.50,365.50 C252.37,366.57 254.25,367.67 255.00,368.10 L255.00,368.10 L133.50,368.10 Z" fill="rgba(245,5,20,0.70)" stroke="none"/>
<path d="M133.50,368.10 C134.25,367.63 136.12,366.37 138.00,365.30 C139.88,364.23 142.63,362.38 144.80,361.70 C146.97,361.02 148.75,361.20 151.00,361.20 C153.25,361.20 156.33,361.35 158.30,361.70 C160.27,362.05 161.12,362.48 162.80,363.30 C164.48,364.12 166.70,366.65 168.40,366.60 C170.10,366.55 171.32,364.87 173.00,363.00 C174.68,361.13 176.08,358.73 178.50,355.40 C180.92,352.07 185.25,347.57 187.50,343.00 C189.75,338.43 190.67,333.17 192.00,328.00 C193.33,322.83 194.57,315.42 195.50,312.00 C196.43,308.58 196.85,307.83 197.60,307.50 C198.35,307.17 199.05,307.83 200.00,310.00 C200.95,312.17 202.20,315.37 203.30,320.50 C204.40,325.63 205.48,336.30 206.60,340.80 C207.72,345.30 208.68,345.63 210.00,347.50 C211.32,349.37 211.87,350.05 214.50,352.00 C217.13,353.95 222.38,357.67 225.80,359.20 C229.22,360.73 232.00,360.78 235.00,361.20 C238.00,361.62 241.22,360.98 243.80,361.70 C246.38,362.42 248.63,364.43 250.50,365.50 C252.37,366.57 254.25,367.67 255.00,368.10" fill="none" stroke="#8e0c1e" stroke-width="0.7" stroke-opacity="0.8"/>
<rect x="255.7" y="365.90" width="0.9" height="2.2" fill="#c8102e" opacity="0.75"/>
<rect x="227.6" y="365.90" width="0.9" height="2.2" fill="#3a56a0" opacity="0.75"/>
<rect x="173.2" y="365.90" width="0.9" height="2.2" fill="#c8102e" opacity="0.75"/>
<rect x="215.1" y="365.90" width="0.9" height="2.2" fill="#c8102e" opacity="0.75"/>
<rect x="191.3" y="365.90" width="0.9" height="2.2" fill="#3a56a0" opacity="0.75"/>
<rect x="244.2" y="365.90" width="0.9" height="2.2" fill="#c8102e" opacity="0.75"/>
<rect x="158.9" y="365.90" width="0.9" height="2.2" fill="#c8102e" opacity="0.75"/>
<rect x="239.4" y="365.90" width="0.9" height="2.2" fill="#c8102e" opacity="0.75"/>
<rect x="174.3" y="365.90" width="0.9" height="2.2" fill="#c8102e" opacity="0.75"/>
<rect x="163.8" y="365.90" width="0.9" height="2.2" fill="#c8102e" opacity="0.75"/>
<rect x="169.8" y="365.90" width="0.9" height="2.2" fill="#c8102e" opacity="0.75"/>
<rect x="229.2" y="365.90" width="0.9" height="2.2" fill="#3a56a0" opacity="0.75"/>
<rect x="194.8" y="365.90" width="0.9" height="2.2" fill="#3a56a0" opacity="0.75"/>
<rect x="211.8" y="365.90" width="0.9" height="2.2" fill="#3a56a0" opacity="0.75"/>
<rect x="176.9" y="365.90" width="0.9" height="2.2" fill="#c8102e" opacity="0.75"/>
<rect x="212.7" y="365.90" width="0.9" height="2.2" fill="#3a56a0" opacity="0.75"/>
<rect x="216.8" y="365.90" width="0.9" height="2.2" fill="#c8102e" opacity="0.75"/>
<rect x="177.1" y="365.90" width="0.9" height="2.2" fill="#c8102e" opacity="0.75"/>
<rect x="173.3" y="365.90" width="0.9" height="2.2" fill="#3a56a0" opacity="0.75"/>
<rect x="245.8" y="365.90" width="0.9" height="2.2" fill="#3a56a0" opacity="0.75"/>
<rect x="207.1" y="365.90" width="0.9" height="2.2" fill="#3a56a0" opacity="0.75"/>
<rect x="182.0" y="365.90" width="0.9" height="2.2" fill="#c8102e" opacity="0.75"/>
<rect x="165.7" y="365.90" width="0.9" height="2.2" fill="#c8102e" opacity="0.75"/>
<rect x="177.3" y="365.90" width="0.9" height="2.2" fill="#c8102e" opacity="0.75"/>
<rect x="249.3" y="365.90" width="0.9" height="2.2" fill="#c8102e" opacity="0.75"/>
<rect x="237.8" y="365.90" width="0.9" height="2.2" fill="#3a56a0" opacity="0.75"/>
<rect x="159.7" y="365.90" width="0.9" height="2.2" fill="#c8102e" opacity="0.75"/>
<rect x="257.6" y="365.90" width="0.9" height="2.2" fill="#3a56a0" opacity="0.75"/>
<rect x="210.8" y="365.90" width="0.9" height="2.2" fill="#3a56a0" opacity="0.75"/>
<rect x="226.5" y="365.90" width="0.9" height="2.2" fill="#c8102e" opacity="0.75"/>
<rect x="209.4" y="365.90" width="0.9" height="2.2" fill="#c8102e" opacity="0.75"/>
<rect x="192.6" y="365.90" width="0.9" height="2.2" fill="#3a56a0" opacity="0.75"/>
<rect x="198.0" y="365.90" width="0.9" height="2.2" fill="#3a56a0" opacity="0.75"/>
<rect x="157.0" y="365.90" width="0.9" height="2.2" fill="#c8102e" opacity="0.75"/>
<rect x="154.8" y="365.90" width="0.9" height="2.2" fill="#3a56a0" opacity="0.75"/>
<rect x="244.2" y="365.90" width="0.9" height="2.2" fill="#c8102e" opacity="0.75"/>
<rect x="211.1" y="365.90" width="0.9" height="2.2" fill="#3a56a0" opacity="0.75"/>
<rect x="174.7" y="365.90" width="0.9" height="2.2" fill="#c8102e" opacity="0.75"/>
<path d="M133.50,448.40 C135.00,447.93 139.75,446.42 142.50,445.60 C145.25,444.78 147.37,444.27 150.00,443.50 C152.63,442.73 155.80,441.82 158.30,441.00 C160.80,440.18 162.75,439.62 165.00,438.60 C167.25,437.58 169.17,436.17 171.80,434.90 C174.43,433.63 178.55,431.72 180.80,431.00 C183.05,430.28 182.43,430.27 185.30,430.60 C188.17,430.93 193.88,432.10 198.00,433.00 C202.12,433.90 205.37,434.93 210.00,436.00 C214.63,437.07 221.63,438.35 225.80,439.40 C229.97,440.45 232.00,441.18 235.00,442.30 C238.00,443.42 240.47,444.90 243.80,446.10 C247.13,447.30 250.97,448.65 255.00,449.50 C259.03,450.35 263.50,450.83 268.00,451.20 C272.50,451.57 279.67,451.62 282.00,451.70 L282.00,451.70 L133.50,451.70 Z" fill="#7f93ba" stroke="none"/>
<path d="M133.50,448.40 C135.00,447.93 139.75,446.42 142.50,445.60 C145.25,444.78 147.37,444.27 150.00,443.50 C152.63,442.73 155.80,441.82 158.30,441.00 C160.80,440.18 162.75,439.62 165.00,438.60 C167.25,437.58 169.17,436.17 171.80,434.90 C174.43,433.63 178.55,431.72 180.80,431.00 C183.05,430.28 182.43,430.27 185.30,430.60 C188.17,430.93 193.88,432.10 198.00,433.00 C202.12,433.90 205.37,434.93 210.00,436.00 C214.63,437.07 221.63,438.35 225.80,439.40 C229.97,440.45 232.00,441.18 235.00,442.30 C238.00,443.42 240.47,444.90 243.80,446.10 C247.13,447.30 250.97,448.65 255.00,449.50 C259.03,450.35 263.50,450.83 268.00,451.20 C272.50,451.57 279.67,451.62 282.00,451.70" fill="none" stroke="#3d4d75" stroke-width="0.7" stroke-opacity="0.8"/>
<path d="M133.50,450.60 C135.42,450.50 141.25,450.37 145.00,450.00 C148.75,449.63 152.67,449.23 156.00,448.40 C159.33,447.57 162.67,446.57 165.00,445.00 C167.33,443.43 168.12,441.25 170.00,439.00 C171.88,436.75 174.13,433.33 176.30,431.50 C178.47,429.67 180.75,428.82 183.00,428.00 C185.25,427.18 187.47,426.63 189.80,426.60 C192.13,426.57 194.75,427.17 197.00,427.80 C199.25,428.43 201.30,429.43 203.30,430.40 C205.30,431.37 207.13,432.67 209.00,433.60 C210.87,434.53 212.67,435.72 214.50,436.00 C216.33,436.28 218.12,435.48 220.00,435.30 C221.88,435.12 223.97,434.82 225.80,434.90 C227.63,434.98 229.13,435.23 231.00,435.80 C232.87,436.37 235.00,437.27 237.00,438.30 C239.00,439.33 241.12,440.70 243.00,442.00 C244.88,443.30 246.30,444.67 248.30,446.10 C250.30,447.53 253.38,449.67 255.00,450.60 C256.62,451.53 257.50,451.52 258.00,451.70 L258.00,451.70 L133.50,451.70 Z" fill="rgba(245,5,20,0.70)" stroke="none"/>
<path d="M133.50,450.60 C135.42,450.50 141.25,450.37 145.00,450.00 C148.75,449.63 152.67,449.23 156.00,448.40 C159.33,447.57 162.67,446.57 165.00,445.00 C167.33,443.43 168.12,441.25 170.00,439.00 C171.88,436.75 174.13,433.33 176.30,431.50 C178.47,429.67 180.75,428.82 183.00,428.00 C185.25,427.18 187.47,426.63 189.80,426.60 C192.13,426.57 194.75,427.17 197.00,427.80 C199.25,428.43 201.30,429.43 203.30,430.40 C205.30,431.37 207.13,432.67 209.00,433.60 C210.87,434.53 212.67,435.72 214.50,436.00 C216.33,436.28 218.12,435.48 220.00,435.30 C221.88,435.12 223.97,434.82 225.80,434.90 C227.63,434.98 229.13,435.23 231.00,435.80 C232.87,436.37 235.00,437.27 237.00,438.30 C239.00,439.33 241.12,440.70 243.00,442.00 C244.88,443.30 246.30,444.67 248.30,446.10 C250.30,447.53 253.38,449.67 255.00,450.60 C256.62,451.53 257.50,451.52 258.00,451.70" fill="none" stroke="#8e0c1e" stroke-width="0.7" stroke-opacity="0.8"/>
<rect x="253.7" y="449.50" width="0.9" height="2.2" fill="#3a56a0" opacity="0.75"/>
<rect x="229.0" y="449.50" width="0.9" height="2.2" fill="#c8102e" opacity="0.75"/>
<rect x="185.7" y="449.50" width="0.9" height="2.2" fill="#3a56a0" opacity="0.75"/>
<rect x="237.1" y="449.50" width="0.9" height="2.2" fill="#c8102e" opacity="0.75"/>
<rect x="168.0" y="449.50" width="0.9" height="2.2" fill="#3a56a0" opacity="0.75"/>
<rect x="162.8" y="449.50" width="0.9" height="2.2" fill="#3a56a0" opacity="0.75"/>
<rect x="185.6" y="449.50" width="0.9" height="2.2" fill="#3a56a0" opacity="0.75"/>
<rect x="243.1" y="449.50" width="0.9" height="2.2" fill="#c8102e" opacity="0.75"/>
<rect x="192.2" y="449.50" width="0.9" height="2.2" fill="#c8102e" opacity="0.75"/>
<rect x="217.1" y="449.50" width="0.9" height="2.2" fill="#3a56a0" opacity="0.75"/>
<rect x="194.2" y="449.50" width="0.9" height="2.2" fill="#c8102e" opacity="0.75"/>
<rect x="207.9" y="449.50" width="0.9" height="2.2" fill="#c8102e" opacity="0.75"/>
<rect x="169.4" y="449.50" width="0.9" height="2.2" fill="#c8102e" opacity="0.75"/>
<rect x="160.8" y="449.50" width="0.9" height="2.2" fill="#c8102e" opacity="0.75"/>
<rect x="236.6" y="449.50" width="0.9" height="2.2" fill="#3a56a0" opacity="0.75"/>
<rect x="177.2" y="449.50" width="0.9" height="2.2" fill="#c8102e" opacity="0.75"/>
<rect x="249.7" y="449.50" width="0.9" height="2.2" fill="#c8102e" opacity="0.75"/>
<rect x="257.1" y="449.50" width="0.9" height="2.2" fill="#c8102e" opacity="0.75"/>
<rect x="240.8" y="449.50" width="0.9" height="2.2" fill="#c8102e" opacity="0.75"/>
<rect x="222.1" y="449.50" width="0.9" height="2.2" fill="#3a56a0" opacity="0.75"/>
<rect x="209.1" y="449.50" width="0.9" height="2.2" fill="#3a56a0" opacity="0.75"/>
<rect x="248.7" y="449.50" width="0.9" height="2.2" fill="#3a56a0" opacity="0.75"/>
<rect x="169.4" y="449.50" width="0.9" height="2.2" fill="#c8102e" opacity="0.75"/>
<rect x="154.3" y="449.50" width="0.9" height="2.2" fill="#c8102e" opacity="0.75"/>
<rect x="165.7" y="449.50" width="0.9" height="2.2" fill="#c8102e" opacity="0.75"/>
<rect x="217.5" y="449.50" width="0.9" height="2.2" fill="#c8102e" opacity="0.75"/>
<rect x="166.6" y="449.50" width="0.9" height="2.2" fill="#c8102e" opacity="0.75"/>
<rect x="237.9" y="449.50" width="0.9" height="2.2" fill="#c8102e" opacity="0.75"/>
<rect x="157.8" y="449.50" width="0.9" height="2.2" fill="#3a56a0" opacity="0.75"/>
<rect x="227.5" y="449.50" width="0.9" height="2.2" fill="#3a56a0" opacity="0.75"/>
<rect x="209.1" y="449.50" width="0.9" height="2.2" fill="#c8102e" opacity="0.75"/>
<rect x="227.7" y="449.50" width="0.9" height="2.2" fill="#c8102e" opacity="0.75"/>
<rect x="241.0" y="449.50" width="0.9" height="2.2" fill="#3a56a0" opacity="0.75"/>
<rect x="242.7" y="449.50" width="0.9" height="2.2" fill="#3a56a0" opacity="0.75"/>
<rect x="240.7" y="449.50" width="0.9" height="2.2" fill="#c8102e" opacity="0.75"/>
<rect x="206.4" y="449.50" width="0.9" height="2.2" fill="#3a56a0" opacity="0.75"/>
<rect x="212.5" y="449.50" width="0.9" height="2.2" fill="#c8102e" opacity="0.75"/>
<rect x="249.0" y="449.50" width="0.9" height="2.2" fill="#c8102e" opacity="0.75"/>
<path d="M133.50,535.30 C135.08,534.92 139.62,533.87 143.00,533.00 C146.38,532.13 150.13,531.70 153.80,530.10 C157.47,528.50 161.25,525.27 165.00,523.40 C168.75,521.53 173.13,520.63 176.30,518.90 C179.47,517.17 181.72,515.23 184.00,513.00 C186.28,510.77 187.92,507.33 190.00,505.50 C192.08,503.67 194.33,502.08 196.50,502.00 C198.67,501.92 200.75,503.33 203.00,505.00 C205.25,506.67 207.83,510.08 210.00,512.00 C212.17,513.92 213.75,515.17 216.00,516.50 C218.25,517.83 221.17,518.67 223.50,520.00 C225.83,521.33 227.75,522.62 230.00,524.50 C232.25,526.38 234.67,529.68 237.00,531.30 C239.33,532.92 241.50,533.53 244.00,534.20 C246.50,534.87 250.67,535.12 252.00,535.30 L252.00,535.30 L133.50,535.30 Z" fill="#7f93ba" stroke="none"/>
<path d="M133.50,535.30 C135.08,534.92 139.62,533.87 143.00,533.00 C146.38,532.13 150.13,531.70 153.80,530.10 C157.47,528.50 161.25,525.27 165.00,523.40 C168.75,521.53 173.13,520.63 176.30,518.90 C179.47,517.17 181.72,515.23 184.00,513.00 C186.28,510.77 187.92,507.33 190.00,505.50 C192.08,503.67 194.33,502.08 196.50,502.00 C198.67,501.92 200.75,503.33 203.00,505.00 C205.25,506.67 207.83,510.08 210.00,512.00 C212.17,513.92 213.75,515.17 216.00,516.50 C218.25,517.83 221.17,518.67 223.50,520.00 C225.83,521.33 227.75,522.62 230.00,524.50 C232.25,526.38 234.67,529.68 237.00,531.30 C239.33,532.92 241.50,533.53 244.00,534.20 C246.50,534.87 250.67,535.12 252.00,535.30" fill="none" stroke="#3d4d75" stroke-width="0.7" stroke-opacity="0.8"/>
<path d="M133.50,535.30 C135.08,535.00 139.62,534.17 143.00,533.50 C146.38,532.83 150.13,532.38 153.80,531.30 C157.47,530.22 161.25,528.72 165.00,527.00 C168.75,525.28 172.92,523.28 176.30,521.00 C179.68,518.72 182.85,515.97 185.30,513.30 C187.75,510.63 189.13,506.95 191.00,505.00 C192.87,503.05 194.50,501.77 196.50,501.60 C198.50,501.43 200.75,502.27 203.00,504.00 C205.25,505.73 207.83,510.00 210.00,512.00 C212.17,514.00 213.75,514.73 216.00,516.00 C218.25,517.27 221.50,518.68 223.50,519.60 C225.50,520.52 226.50,520.68 228.00,521.50 C229.50,522.32 231.00,523.25 232.50,524.50 C234.00,525.75 235.50,527.50 237.00,529.00 C238.50,530.50 240.00,532.45 241.50,533.50 C243.00,534.55 245.25,535.00 246.00,535.30 L246.00,535.30 L133.50,535.30 Z" fill="rgba(245,5,20,0.70)" stroke="none"/>
<path d="M133.50,535.30 C135.08,535.00 139.62,534.17 143.00,533.50 C146.38,532.83 150.13,532.38 153.80,531.30 C157.47,530.22 161.25,528.72 165.00,527.00 C168.75,525.28 172.92,523.28 176.30,521.00 C179.68,518.72 182.85,515.97 185.30,513.30 C187.75,510.63 189.13,506.95 191.00,505.00 C192.87,503.05 194.50,501.77 196.50,501.60 C198.50,501.43 200.75,502.27 203.00,504.00 C205.25,505.73 207.83,510.00 210.00,512.00 C212.17,514.00 213.75,514.73 216.00,516.00 C218.25,517.27 221.50,518.68 223.50,519.60 C225.50,520.52 226.50,520.68 228.00,521.50 C229.50,522.32 231.00,523.25 232.50,524.50 C234.00,525.75 235.50,527.50 237.00,529.00 C238.50,530.50 240.00,532.45 241.50,533.50 C243.00,534.55 245.25,535.00 246.00,535.30" fill="none" stroke="#8e0c1e" stroke-width="0.7" stroke-opacity="0.8"/>
<rect x="244.8" y="533.10" width="0.9" height="2.2" fill="#c8102e" opacity="0.75"/>
<rect x="235.4" y="533.10" width="0.9" height="2.2" fill="#3a56a0" opacity="0.75"/>
<rect x="183.7" y="533.10" width="0.9" height="2.2" fill="#3a56a0" opacity="0.75"/>
<rect x="186.1" y="533.10" width="0.9" height="2.2" fill="#c8102e" opacity="0.75"/>
<rect x="187.6" y="533.10" width="0.9" height="2.2" fill="#3a56a0" opacity="0.75"/>
<rect x="165.9" y="533.10" width="0.9" height="2.2" fill="#3a56a0" opacity="0.75"/>
<rect x="187.9" y="533.10" width="0.9" height="2.2" fill="#c8102e" opacity="0.75"/>
<rect x="196.5" y="533.10" width="0.9" height="2.2" fill="#c8102e" opacity="0.75"/>
<rect x="199.7" y="533.10" width="0.9" height="2.2" fill="#3a56a0" opacity="0.75"/>
<rect x="249.4" y="533.10" width="0.9" height="2.2" fill="#c8102e" opacity="0.75"/>
<rect x="256.7" y="533.10" width="0.9" height="2.2" fill="#3a56a0" opacity="0.75"/>
<rect x="253.7" y="533.10" width="0.9" height="2.2" fill="#3a56a0" opacity="0.75"/>
<rect x="206.8" y="533.10" width="0.9" height="2.2" fill="#c8102e" opacity="0.75"/>
<rect x="250.4" y="533.10" width="0.9" height="2.2" fill="#3a56a0" opacity="0.75"/>
<rect x="217.5" y="533.10" width="0.9" height="2.2" fill="#c8102e" opacity="0.75"/>
<rect x="238.9" y="533.10" width="0.9" height="2.2" fill="#3a56a0" opacity="0.75"/>
<rect x="245.0" y="533.10" width="0.9" height="2.2" fill="#3a56a0" opacity="0.75"/>
<rect x="255.4" y="533.10" width="0.9" height="2.2" fill="#3a56a0" opacity="0.75"/>
<rect x="192.4" y="533.10" width="0.9" height="2.2" fill="#c8102e" opacity="0.75"/>
<rect x="204.5" y="533.10" width="0.9" height="2.2" fill="#3a56a0" opacity="0.75"/>
<rect x="217.6" y="533.10" width="0.9" height="2.2" fill="#3a56a0" opacity="0.75"/>
<rect x="205.7" y="533.10" width="0.9" height="2.2" fill="#c8102e" opacity="0.75"/>
<rect x="254.1" y="533.10" width="0.9" height="2.2" fill="#3a56a0" opacity="0.75"/>
<rect x="250.6" y="533.10" width="0.9" height="2.2" fill="#3a56a0" opacity="0.75"/>
<rect x="163.4" y="533.10" width="0.9" height="2.2" fill="#c8102e" opacity="0.75"/>
<rect x="181.4" y="533.10" width="0.9" height="2.2" fill="#c8102e" opacity="0.75"/>
<rect x="163.7" y="533.10" width="0.9" height="2.2" fill="#c8102e" opacity="0.75"/>
<rect x="202.0" y="533.10" width="0.9" height="2.2" fill="#3a56a0" opacity="0.75"/>
<rect x="243.7" y="533.10" width="0.9" height="2.2" fill="#3a56a0" opacity="0.75"/>
<rect x="212.9" y="533.10" width="0.9" height="2.2" fill="#c8102e" opacity="0.75"/>
<rect x="170.7" y="533.10" width="0.9" height="2.2" fill="#c8102e" opacity="0.75"/>
<rect x="243.8" y="533.10" width="0.9" height="2.2" fill="#c8102e" opacity="0.75"/>
<rect x="228.1" y="533.10" width="0.9" height="2.2" fill="#c8102e" opacity="0.75"/>
<rect x="213.1" y="533.10" width="0.9" height="2.2" fill="#3a56a0" opacity="0.75"/>
<rect x="221.0" y="533.10" width="0.9" height="2.2" fill="#c8102e" opacity="0.75"/>
<rect x="218.6" y="533.10" width="0.9" height="2.2" fill="#c8102e" opacity="0.75"/>
<rect x="255.5" y="533.10" width="0.9" height="2.2" fill="#c8102e" opacity="0.75"/>
<rect x="176.1" y="533.10" width="0.9" height="2.2" fill="#3a56a0" opacity="0.75"/>
<line x1="122.60" y1="535.50" x2="292.50" y2="535.50" stroke="#111" stroke-width="1.3" />
<line x1="140.70" y1="535.50" x2="140.70" y2="539.80" stroke="#111" stroke-width="1.1" />
<text x="140.70" y="552.20" font-size="8.3" text-anchor="middle" fill="#2b2b2b" >−0.5</text>
<line x1="196.50" y1="535.50" x2="196.50" y2="539.80" stroke="#111" stroke-width="1.1" />
<text x="196.50" y="552.20" font-size="8.3" text-anchor="middle" fill="#2b2b2b" >0</text>
<line x1="252.30" y1="535.50" x2="252.30" y2="539.80" stroke="#111" stroke-width="1.1" />
<text x="252.30" y="552.20" font-size="8.3" text-anchor="middle" fill="#2b2b2b" >0.5</text>
<text x="126.8" y="566.5" font-size="9.8" fill="#2b2b2b" textLength="162.4" lengthAdjust="spacingAndGlyphs">log<tspan font-size="6.5" dy="2.6">10</tspan><tspan dy="-2.6">(abundance relative to median)</tspan></text>
<text x="20.60" y="289.40" font-size="9.8" text-anchor="middle" fill="#2b2b2b" textLength="30.20" lengthAdjust="spacingAndGlyphs" transform="rotate(-90 20.60 289.40)" >% Zero</text>
<text x="101.80" y="292.80" font-size="9.8" text-anchor="middle" fill="#2b2b2b" textLength="33.50" lengthAdjust="spacingAndGlyphs" transform="rotate(-90 101.80 292.80)" >Density</text>
<text x="327.60" y="22.30" font-size="12.5" font-weight="bold" fill="#000" >b</text>
<rect x="380.3" y="16.0" width="178.50" height="185.30" fill="#fff"/>
<line x1="387.80" y1="16.00" x2="387.80" y2="201.30" stroke="#e6e6e6" stroke-width="0.9" />
<line x1="380.30" y1="193.60" x2="558.80" y2="193.60" stroke="#e6e6e6" stroke-width="0.9" />
<line x1="408.21" y1="16.00" x2="408.21" y2="201.30" stroke="#f3f3f3" stroke-width="0.6" />
<line x1="380.30" y1="172.39" x2="558.80" y2="172.39" stroke="#f3f3f3" stroke-width="0.6" />
<line x1="428.62" y1="16.00" x2="428.62" y2="201.30" stroke="#e6e6e6" stroke-width="0.9" />
<line x1="380.30" y1="151.18" x2="558.80" y2="151.18" stroke="#e6e6e6" stroke-width="0.9" />
<line x1="449.04" y1="16.00" x2="449.04" y2="201.30" stroke="#f3f3f3" stroke-width="0.6" />
<line x1="380.30" y1="129.96" x2="558.80" y2="129.96" stroke="#f3f3f3" stroke-width="0.6" />
<line x1="469.45" y1="16.00" x2="469.45" y2="201.30" stroke="#e6e6e6" stroke-width="0.9" />
<line x1="380.30" y1="108.75" x2="558.80" y2="108.75" stroke="#e6e6e6" stroke-width="0.9" />
<line x1="489.86" y1="16.00" x2="489.86" y2="201.30" stroke="#f3f3f3" stroke-width="0.6" />
<line x1="380.30" y1="87.54" x2="558.80" y2="87.54" stroke="#f3f3f3" stroke-width="0.6" />
<line x1="510.28" y1="16.00" x2="510.28" y2="201.30" stroke="#e6e6e6" stroke-width="0.9" />
<line x1="380.30" y1="66.33" x2="558.80" y2="66.33" stroke="#e6e6e6" stroke-width="0.9" />
<line x1="530.69" y1="16.00" x2="530.69" y2="201.30" stroke="#f3f3f3" stroke-width="0.6" />
<line x1="380.30" y1="45.11" x2="558.80" y2="45.11" stroke="#f3f3f3" stroke-width="0.6" />
<line x1="551.10" y1="16.00" x2="551.10" y2="201.30" stroke="#e6e6e6" stroke-width="0.9" />
<line x1="380.30" y1="23.90" x2="558.80" y2="23.90" stroke="#e6e6e6" stroke-width="0.9" />
<path d="M552.4,22.8 L546.0,23.6 L540.3,25.0 L528.2,30.1 L516.2,37.1 L504.1,43.1 L492.1,48.2 L480.5,51.3 L473.0,56.6 L468.4,61.1 L463.9,65.6 L458.6,70.2 L454.9,73.9 L452.5,82.0 L447.5,89.0 L443.0,94.0 L436.0,100.0 L428.0,106.0 L420.0,111.5 L410.0,116.0 L401.0,120.0 L397.0,125.0 L394.0,130.0 L391.4,135.0 L389.0,141.0 L387.1,148.0 L387.1,155.0 L388.5,160.0 L391.0,166.0 L394.2,173.0 L400.0,180.0 L407.0,187.0 L411.3,193.0 L414.0,194.6 L421.0,194.0 L427.0,190.5 L433.0,184.0 L438.5,177.5 L443.0,172.0 L448.5,167.0 L453.5,161.0 L457.5,154.0 L460.5,148.0 L464.0,142.0 L469.0,136.0 L474.5,131.0 L478.5,125.0 L481.0,120.0 L486.0,113.0 L491.0,106.0 L497.0,98.0 L502.0,90.0 L504.1,84.3 L510.2,81.3 L516.2,75.3 L522.2,67.3 L527.2,59.2 L532.3,52.2 L538.3,45.2 L544.3,37.1 L550.4,29.1 L553.8,25.2 Z" fill="#8196bc" stroke="#8196bc" stroke-width="1.6" stroke-linejoin="round"/>
<circle cx="550.3" cy="22.9" r="1.45" fill="#8196bc" opacity="0.75"/>
<circle cx="548.2" cy="23.3" r="1.45" fill="#8196bc" opacity="0.76"/>
<circle cx="542.8" cy="23.6" r="1.45" fill="#8196bc" opacity="0.81"/>
<circle cx="545.3" cy="22.2" r="1.45" fill="#8196bc" opacity="0.58"/>
<circle cx="539.4" cy="24.2" r="1.45" fill="#8196bc" opacity="0.84"/>
<circle cx="539.4" cy="25.3" r="1.45" fill="#8196bc" opacity="0.65"/>
<circle cx="533.8" cy="23.9" r="1.45" fill="#8196bc" opacity="0.58"/>
<circle cx="538.7" cy="25.3" r="1.45" fill="#8196bc" opacity="0.66"/>
<circle cx="518.4" cy="30.6" r="1.45" fill="#8196bc" opacity="0.84"/>
<circle cx="520.8" cy="33.3" r="1.45" fill="#8196bc" opacity="0.63"/>
<circle cx="516.5" cy="36.9" r="1.45" fill="#8196bc" opacity="0.85"/>
<circle cx="517.6" cy="35.6" r="1.45" fill="#8196bc" opacity="0.94"/>
<circle cx="514.4" cy="37.9" r="1.45" fill="#8196bc" opacity="0.75"/>
<circle cx="510.9" cy="35.8" r="1.45" fill="#8196bc" opacity="0.70"/>
<circle cx="513.2" cy="36.5" r="1.45" fill="#8196bc" opacity="0.74"/>
<circle cx="508.1" cy="40.2" r="1.45" fill="#8196bc" opacity="0.82"/>
<circle cx="497.5" cy="45.9" r="1.45" fill="#8196bc" opacity="0.86"/>
<circle cx="503.3" cy="43.1" r="1.45" fill="#8196bc" opacity="0.80"/>
<circle cx="495.5" cy="45.6" r="1.45" fill="#8196bc" opacity="0.81"/>
<circle cx="499.6" cy="42.9" r="1.45" fill="#8196bc" opacity="0.58"/>
<circle cx="486.7" cy="49.1" r="1.45" fill="#8196bc" opacity="0.61"/>
<circle cx="482.2" cy="48.1" r="1.45" fill="#8196bc" opacity="0.65"/>
<circle cx="488.8" cy="47.2" r="1.45" fill="#8196bc" opacity="0.85"/>
<circle cx="485.0" cy="46.0" r="1.45" fill="#8196bc" opacity="0.67"/>
<circle cx="474.7" cy="54.7" r="1.45" fill="#8196bc" opacity="0.78"/>
<circle cx="473.1" cy="56.4" r="1.45" fill="#8196bc" opacity="0.55"/>
<circle cx="475.6" cy="51.0" r="1.45" fill="#8196bc" opacity="0.57"/>
<circle cx="471.3" cy="56.3" r="1.45" fill="#8196bc" opacity="0.66"/>
<circle cx="471.1" cy="55.0" r="1.45" fill="#8196bc" opacity="0.82"/>
<circle cx="463.7" cy="63.2" r="1.45" fill="#8196bc" opacity="0.83"/>
<circle cx="464.0" cy="64.6" r="1.45" fill="#8196bc" opacity="0.82"/>
<circle cx="458.9" cy="67.3" r="1.45" fill="#8196bc" opacity="0.67"/>
<circle cx="460.0" cy="67.3" r="1.45" fill="#8196bc" opacity="0.76"/>
<circle cx="452.3" cy="70.1" r="1.45" fill="#8196bc" opacity="0.74"/>
<circle cx="451.5" cy="77.1" r="1.45" fill="#8196bc" opacity="0.74"/>
<circle cx="452.2" cy="73.6" r="1.45" fill="#8196bc" opacity="0.60"/>
<circle cx="445.2" cy="83.7" r="1.45" fill="#8196bc" opacity="0.91"/>
<circle cx="448.0" cy="87.5" r="1.45" fill="#8196bc" opacity="0.63"/>
<circle cx="448.6" cy="83.3" r="1.45" fill="#8196bc" opacity="0.94"/>
<circle cx="446.5" cy="88.3" r="1.45" fill="#8196bc" opacity="0.92"/>
<circle cx="446.7" cy="89.8" r="1.45" fill="#8196bc" opacity="0.56"/>
<circle cx="440.6" cy="92.0" r="1.45" fill="#8196bc" opacity="0.73"/>
<circle cx="441.8" cy="94.5" r="1.45" fill="#8196bc" opacity="0.88"/>
<circle cx="437.7" cy="93.4" r="1.45" fill="#8196bc" opacity="0.94"/>
<circle cx="434.6" cy="99.5" r="1.45" fill="#8196bc" opacity="0.73"/>
<circle cx="429.2" cy="100.1" r="1.45" fill="#8196bc" opacity="0.66"/>
<circle cx="427.1" cy="101.8" r="1.45" fill="#8196bc" opacity="0.63"/>
<circle cx="425.2" cy="106.7" r="1.45" fill="#8196bc" opacity="0.93"/>
<circle cx="422.9" cy="104.7" r="1.45" fill="#8196bc" opacity="0.63"/>
<circle cx="420.2" cy="111.1" r="1.45" fill="#8196bc" opacity="0.78"/>
<circle cx="418.1" cy="112.0" r="1.45" fill="#8196bc" opacity="0.61"/>
<circle cx="417.1" cy="111.3" r="1.45" fill="#8196bc" opacity="0.76"/>
<circle cx="413.9" cy="113.7" r="1.45" fill="#8196bc" opacity="0.93"/>
<circle cx="409.5" cy="115.1" r="1.45" fill="#8196bc" opacity="0.60"/>
<circle cx="405.9" cy="115.8" r="1.45" fill="#8196bc" opacity="0.88"/>
<circle cx="400.4" cy="117.5" r="1.45" fill="#8196bc" opacity="0.75"/>
<circle cx="397.3" cy="121.3" r="1.45" fill="#8196bc" opacity="0.90"/>
<circle cx="398.3" cy="123.4" r="1.45" fill="#8196bc" opacity="0.83"/>
<circle cx="391.6" cy="127.9" r="1.45" fill="#8196bc" opacity="0.64"/>
<circle cx="391.5" cy="127.7" r="1.45" fill="#8196bc" opacity="0.91"/>
<circle cx="392.1" cy="131.5" r="1.45" fill="#8196bc" opacity="0.74"/>
<circle cx="389.1" cy="134.8" r="1.45" fill="#8196bc" opacity="0.56"/>
<circle cx="391.2" cy="135.4" r="1.45" fill="#8196bc" opacity="0.55"/>
<circle cx="388.4" cy="142.4" r="1.45" fill="#8196bc" opacity="0.75"/>
<circle cx="388.3" cy="143.4" r="1.45" fill="#8196bc" opacity="0.73"/>
<circle cx="386.9" cy="148.0" r="1.45" fill="#8196bc" opacity="0.67"/>
<circle cx="386.3" cy="148.7" r="1.45" fill="#8196bc" opacity="0.61"/>
<circle cx="383.4" cy="156.2" r="1.45" fill="#8196bc" opacity="0.69"/>
<circle cx="389.9" cy="163.7" r="1.45" fill="#8196bc" opacity="0.68"/>
<circle cx="388.4" cy="161.8" r="1.45" fill="#8196bc" opacity="0.89"/>
<circle cx="392.1" cy="168.6" r="1.45" fill="#8196bc" opacity="0.55"/>
<circle cx="389.2" cy="174.0" r="1.45" fill="#8196bc" opacity="0.85"/>
<circle cx="395.9" cy="177.1" r="1.45" fill="#8196bc" opacity="0.89"/>
<circle cx="394.6" cy="173.7" r="1.45" fill="#8196bc" opacity="0.60"/>
<circle cx="395.8" cy="175.7" r="1.45" fill="#8196bc" opacity="0.92"/>
<circle cx="405.7" cy="185.9" r="1.45" fill="#8196bc" opacity="0.84"/>
<circle cx="396.9" cy="183.4" r="1.45" fill="#8196bc" opacity="0.91"/>
<circle cx="403.6" cy="183.8" r="1.45" fill="#8196bc" opacity="0.67"/>
<circle cx="409.3" cy="190.3" r="1.45" fill="#8196bc" opacity="0.70"/>
<circle cx="405.4" cy="193.0" r="1.45" fill="#8196bc" opacity="0.71"/>
<circle cx="412.3" cy="196.6" r="1.45" fill="#8196bc" opacity="0.95"/>
<circle cx="416.0" cy="196.1" r="1.45" fill="#8196bc" opacity="0.79"/>
<circle cx="416.4" cy="195.1" r="1.45" fill="#8196bc" opacity="0.69"/>
<circle cx="429.5" cy="196.9" r="1.45" fill="#8196bc" opacity="0.72"/>
<circle cx="428.8" cy="196.2" r="1.45" fill="#8196bc" opacity="0.66"/>
<circle cx="423.9" cy="195.8" r="1.45" fill="#8196bc" opacity="0.57"/>
<circle cx="423.1" cy="192.8" r="1.45" fill="#8196bc" opacity="0.59"/>
<circle cx="421.7" cy="194.8" r="1.45" fill="#8196bc" opacity="0.88"/>
<circle cx="432.3" cy="192.3" r="1.45" fill="#8196bc" opacity="0.66"/>
<circle cx="434.5" cy="185.9" r="1.45" fill="#8196bc" opacity="0.92"/>
<circle cx="439.8" cy="191.0" r="1.45" fill="#8196bc" opacity="0.65"/>
<circle cx="433.9" cy="185.4" r="1.45" fill="#8196bc" opacity="0.66"/>
<circle cx="428.8" cy="189.5" r="1.45" fill="#8196bc" opacity="0.75"/>
<circle cx="428.6" cy="189.6" r="1.45" fill="#8196bc" opacity="0.63"/>
<circle cx="442.8" cy="185.3" r="1.45" fill="#8196bc" opacity="0.70"/>
<circle cx="439.7" cy="180.3" r="1.45" fill="#8196bc" opacity="0.93"/>
<circle cx="441.7" cy="184.1" r="1.45" fill="#8196bc" opacity="0.90"/>
<circle cx="437.1" cy="186.5" r="1.45" fill="#8196bc" opacity="0.87"/>
<circle cx="442.9" cy="182.2" r="1.45" fill="#8196bc" opacity="0.80"/>
<circle cx="439.1" cy="180.8" r="1.45" fill="#8196bc" opacity="0.92"/>
<circle cx="444.4" cy="180.7" r="1.45" fill="#8196bc" opacity="0.93"/>
<circle cx="445.2" cy="179.9" r="1.45" fill="#8196bc" opacity="0.77"/>
<circle cx="444.3" cy="173.4" r="1.45" fill="#8196bc" opacity="0.84"/>
<circle cx="447.3" cy="181.0" r="1.45" fill="#8196bc" opacity="0.57"/>
<circle cx="442.1" cy="173.8" r="1.45" fill="#8196bc" opacity="0.84"/>
<circle cx="443.9" cy="171.6" r="1.45" fill="#8196bc" opacity="0.73"/>
<circle cx="452.5" cy="172.5" r="1.45" fill="#8196bc" opacity="0.85"/>
<circle cx="448.6" cy="176.5" r="1.45" fill="#8196bc" opacity="0.81"/>
<circle cx="451.6" cy="170.6" r="1.45" fill="#8196bc" opacity="0.66"/>
<circle cx="447.2" cy="172.8" r="1.45" fill="#8196bc" opacity="0.57"/>
<circle cx="449.2" cy="166.2" r="1.45" fill="#8196bc" opacity="0.92"/>
<circle cx="456.9" cy="164.1" r="1.45" fill="#8196bc" opacity="0.60"/>
<circle cx="457.9" cy="169.5" r="1.45" fill="#8196bc" opacity="0.74"/>
<circle cx="456.7" cy="169.4" r="1.45" fill="#8196bc" opacity="0.69"/>
<circle cx="453.1" cy="162.4" r="1.45" fill="#8196bc" opacity="0.67"/>
<circle cx="455.5" cy="159.8" r="1.45" fill="#8196bc" opacity="0.85"/>
<circle cx="457.8" cy="161.2" r="1.45" fill="#8196bc" opacity="0.94"/>
<circle cx="456.4" cy="160.2" r="1.45" fill="#8196bc" opacity="0.65"/>
<circle cx="461.4" cy="164.3" r="1.45" fill="#8196bc" opacity="0.81"/>
<circle cx="457.0" cy="159.7" r="1.45" fill="#8196bc" opacity="0.67"/>
<circle cx="463.1" cy="161.1" r="1.45" fill="#8196bc" opacity="0.77"/>
<circle cx="466.4" cy="155.3" r="1.45" fill="#8196bc" opacity="0.71"/>
<circle cx="461.9" cy="152.4" r="1.45" fill="#8196bc" opacity="0.62"/>
<circle cx="459.1" cy="150.9" r="1.45" fill="#8196bc" opacity="0.61"/>
<circle cx="459.2" cy="151.6" r="1.45" fill="#8196bc" opacity="0.63"/>
<circle cx="463.5" cy="157.0" r="1.45" fill="#8196bc" opacity="0.91"/>
<circle cx="463.4" cy="148.3" r="1.45" fill="#8196bc" opacity="0.75"/>
<circle cx="466.0" cy="145.4" r="1.45" fill="#8196bc" opacity="0.64"/>
<circle cx="464.3" cy="147.6" r="1.45" fill="#8196bc" opacity="0.91"/>
<circle cx="468.0" cy="147.9" r="1.45" fill="#8196bc" opacity="0.95"/>
<circle cx="463.9" cy="149.1" r="1.45" fill="#8196bc" opacity="0.73"/>
<circle cx="466.0" cy="141.1" r="1.45" fill="#8196bc" opacity="0.61"/>
<circle cx="470.1" cy="139.3" r="1.45" fill="#8196bc" opacity="0.63"/>
<circle cx="471.5" cy="142.5" r="1.45" fill="#8196bc" opacity="0.59"/>
<circle cx="470.3" cy="138.0" r="1.45" fill="#8196bc" opacity="0.69"/>
<circle cx="469.3" cy="140.2" r="1.45" fill="#8196bc" opacity="0.59"/>
<circle cx="475.3" cy="137.3" r="1.45" fill="#8196bc" opacity="0.65"/>
<circle cx="473.7" cy="136.1" r="1.45" fill="#8196bc" opacity="0.65"/>
<circle cx="477.7" cy="140.2" r="1.45" fill="#8196bc" opacity="0.78"/>
<circle cx="478.2" cy="138.3" r="1.45" fill="#8196bc" opacity="0.90"/>
<circle cx="474.8" cy="131.9" r="1.45" fill="#8196bc" opacity="0.85"/>
<circle cx="484.2" cy="132.6" r="1.45" fill="#8196bc" opacity="0.72"/>
<circle cx="478.1" cy="126.1" r="1.45" fill="#8196bc" opacity="0.72"/>
<circle cx="476.9" cy="131.5" r="1.45" fill="#8196bc" opacity="0.76"/>
<circle cx="475.4" cy="131.0" r="1.45" fill="#8196bc" opacity="0.70"/>
<circle cx="478.8" cy="133.3" r="1.45" fill="#8196bc" opacity="0.69"/>
<circle cx="487.8" cy="124.8" r="1.45" fill="#8196bc" opacity="0.57"/>
<circle cx="483.8" cy="126.7" r="1.45" fill="#8196bc" opacity="0.66"/>
<circle cx="480.4" cy="121.8" r="1.45" fill="#8196bc" opacity="0.94"/>
<circle cx="489.1" cy="124.8" r="1.45" fill="#8196bc" opacity="0.60"/>
<circle cx="489.6" cy="123.8" r="1.45" fill="#8196bc" opacity="0.75"/>
<circle cx="485.2" cy="118.8" r="1.45" fill="#8196bc" opacity="0.80"/>
<circle cx="491.8" cy="117.2" r="1.45" fill="#8196bc" opacity="0.90"/>
<circle cx="483.6" cy="120.2" r="1.45" fill="#8196bc" opacity="0.64"/>
<circle cx="484.7" cy="117.2" r="1.45" fill="#8196bc" opacity="0.66"/>
<circle cx="483.0" cy="119.4" r="1.45" fill="#8196bc" opacity="0.65"/>
<circle cx="489.6" cy="107.9" r="1.45" fill="#8196bc" opacity="0.71"/>
<circle cx="490.6" cy="110.5" r="1.45" fill="#8196bc" opacity="0.73"/>
<circle cx="487.2" cy="113.7" r="1.45" fill="#8196bc" opacity="0.93"/>
<circle cx="491.6" cy="110.4" r="1.45" fill="#8196bc" opacity="0.89"/>
<circle cx="494.2" cy="118.2" r="1.45" fill="#8196bc" opacity="0.90"/>
<circle cx="497.7" cy="113.0" r="1.45" fill="#8196bc" opacity="0.56"/>
<circle cx="492.4" cy="105.7" r="1.45" fill="#8196bc" opacity="0.56"/>
<circle cx="496.3" cy="109.5" r="1.45" fill="#8196bc" opacity="0.83"/>
<circle cx="492.8" cy="104.0" r="1.45" fill="#8196bc" opacity="0.91"/>
<circle cx="500.3" cy="107.7" r="1.45" fill="#8196bc" opacity="0.74"/>
<circle cx="496.6" cy="100.0" r="1.45" fill="#8196bc" opacity="0.78"/>
<circle cx="498.8" cy="110.0" r="1.45" fill="#8196bc" opacity="0.55"/>
<circle cx="498.6" cy="104.6" r="1.45" fill="#8196bc" opacity="0.71"/>
<circle cx="497.5" cy="97.3" r="1.45" fill="#8196bc" opacity="0.92"/>
<circle cx="502.3" cy="93.6" r="1.45" fill="#8196bc" opacity="0.88"/>
<circle cx="504.9" cy="102.1" r="1.45" fill="#8196bc" opacity="0.89"/>
<circle cx="505.9" cy="96.5" r="1.45" fill="#8196bc" opacity="0.94"/>
<circle cx="503.8" cy="101.3" r="1.45" fill="#8196bc" opacity="0.65"/>
<circle cx="503.8" cy="101.5" r="1.45" fill="#8196bc" opacity="0.59"/>
<circle cx="500.5" cy="95.1" r="1.45" fill="#8196bc" opacity="0.61"/>
<circle cx="511.3" cy="89.9" r="1.45" fill="#8196bc" opacity="0.76"/>
<circle cx="502.8" cy="88.6" r="1.45" fill="#8196bc" opacity="0.82"/>
<circle cx="503.8" cy="87.3" r="1.45" fill="#8196bc" opacity="0.93"/>
<circle cx="502.6" cy="89.5" r="1.45" fill="#8196bc" opacity="0.84"/>
<circle cx="504.2" cy="83.6" r="1.45" fill="#8196bc" opacity="0.81"/>
<circle cx="505.5" cy="82.3" r="1.45" fill="#8196bc" opacity="0.86"/>
<circle cx="508.3" cy="81.1" r="1.45" fill="#8196bc" opacity="0.73"/>
<circle cx="507.0" cy="82.4" r="1.45" fill="#8196bc" opacity="0.77"/>
<circle cx="506.2" cy="83.3" r="1.45" fill="#8196bc" opacity="0.57"/>
<circle cx="511.7" cy="79.8" r="1.45" fill="#8196bc" opacity="0.86"/>
<circle cx="517.0" cy="79.3" r="1.45" fill="#8196bc" opacity="0.64"/>
<circle cx="513.2" cy="82.0" r="1.45" fill="#8196bc" opacity="0.92"/>
<circle cx="515.9" cy="75.8" r="1.45" fill="#8196bc" opacity="0.81"/>
<circle cx="516.7" cy="77.9" r="1.45" fill="#8196bc" opacity="0.67"/>
<circle cx="518.3" cy="83.4" r="1.45" fill="#8196bc" opacity="0.60"/>
<circle cx="520.9" cy="73.9" r="1.45" fill="#8196bc" opacity="0.65"/>
<circle cx="528.1" cy="75.6" r="1.45" fill="#8196bc" opacity="0.80"/>
<circle cx="524.0" cy="76.9" r="1.45" fill="#8196bc" opacity="0.83"/>
<circle cx="524.0" cy="72.3" r="1.45" fill="#8196bc" opacity="0.59"/>
<circle cx="519.8" cy="73.0" r="1.45" fill="#8196bc" opacity="0.58"/>
<circle cx="516.7" cy="75.0" r="1.45" fill="#8196bc" opacity="0.76"/>
<circle cx="521.3" cy="78.2" r="1.45" fill="#8196bc" opacity="0.78"/>
<circle cx="523.8" cy="65.4" r="1.45" fill="#8196bc" opacity="0.71"/>
<circle cx="528.9" cy="70.5" r="1.45" fill="#8196bc" opacity="0.64"/>
<circle cx="530.7" cy="62.8" r="1.45" fill="#8196bc" opacity="0.79"/>
<circle cx="524.3" cy="65.4" r="1.45" fill="#8196bc" opacity="0.55"/>
<circle cx="525.8" cy="66.2" r="1.45" fill="#8196bc" opacity="0.67"/>
<circle cx="525.0" cy="67.3" r="1.45" fill="#8196bc" opacity="0.73"/>
<circle cx="531.4" cy="70.1" r="1.45" fill="#8196bc" opacity="0.93"/>
<circle cx="534.9" cy="54.4" r="1.45" fill="#8196bc" opacity="0.81"/>
<circle cx="536.0" cy="63.0" r="1.45" fill="#8196bc" opacity="0.90"/>
<circle cx="530.0" cy="58.0" r="1.45" fill="#8196bc" opacity="0.74"/>
<circle cx="528.6" cy="60.2" r="1.45" fill="#8196bc" opacity="0.64"/>
<circle cx="532.0" cy="57.6" r="1.45" fill="#8196bc" opacity="0.65"/>
<circle cx="530.6" cy="59.5" r="1.45" fill="#8196bc" opacity="0.93"/>
<circle cx="533.0" cy="52.8" r="1.45" fill="#8196bc" opacity="0.83"/>
<circle cx="534.3" cy="52.8" r="1.45" fill="#8196bc" opacity="0.67"/>
<circle cx="532.6" cy="51.9" r="1.45" fill="#8196bc" opacity="0.56"/>
<circle cx="534.7" cy="50.5" r="1.45" fill="#8196bc" opacity="0.75"/>
<circle cx="538.2" cy="50.2" r="1.45" fill="#8196bc" opacity="0.82"/>
<circle cx="540.4" cy="50.0" r="1.45" fill="#8196bc" opacity="0.72"/>
<circle cx="549.0" cy="44.1" r="1.45" fill="#8196bc" opacity="0.65"/>
<circle cx="541.7" cy="42.8" r="1.45" fill="#8196bc" opacity="0.82"/>
<circle cx="544.5" cy="37.4" r="1.45" fill="#8196bc" opacity="0.92"/>
<circle cx="546.3" cy="42.0" r="1.45" fill="#8196bc" opacity="0.64"/>
<circle cx="544.4" cy="49.2" r="1.45" fill="#8196bc" opacity="0.56"/>
<circle cx="547.1" cy="40.5" r="1.45" fill="#8196bc" opacity="0.69"/>
<circle cx="548.2" cy="43.3" r="1.45" fill="#8196bc" opacity="0.72"/>
<circle cx="547.6" cy="37.9" r="1.45" fill="#8196bc" opacity="0.82"/>
<circle cx="553.1" cy="37.4" r="1.45" fill="#8196bc" opacity="0.63"/>
<circle cx="554.9" cy="35.0" r="1.45" fill="#8196bc" opacity="0.87"/>
<circle cx="554.3" cy="37.4" r="1.45" fill="#8196bc" opacity="0.85"/>
<circle cx="552.6" cy="34.8" r="1.45" fill="#8196bc" opacity="0.75"/>
<circle cx="545.7" cy="35.3" r="1.45" fill="#8196bc" opacity="0.63"/>
<circle cx="546.4" cy="37.0" r="1.45" fill="#8196bc" opacity="0.94"/>
<circle cx="556.2" cy="33.4" r="1.45" fill="#8196bc" opacity="0.67"/>
<circle cx="555.6" cy="29.8" r="1.45" fill="#8196bc" opacity="0.88"/>
<circle cx="556.3" cy="29.9" r="1.45" fill="#8196bc" opacity="0.64"/>
<circle cx="553.1" cy="24.0" r="1.45" fill="#8196bc" opacity="0.64"/>
<circle cx="421.4" cy="72.5" r="1.45" fill="#8196bc" opacity="0.85"/>
<circle cx="435.5" cy="68.9" r="1.45" fill="#8196bc" opacity="0.67"/>
<circle cx="452.2" cy="70.4" r="1.45" fill="#8196bc" opacity="0.93"/>
<circle cx="393.0" cy="170.0" r="1.45" fill="#8196bc" opacity="0.75"/>
<circle cx="406.0" cy="186.0" r="1.45" fill="#8196bc" opacity="0.62"/>
<line x1="469.45" y1="23.90" x2="469.45" y2="108.75" stroke="#333" stroke-width="0.9" stroke-dasharray="2.4 1.8"/>
<line x1="380.30" y1="108.75" x2="469.45" y2="108.75" stroke="#333" stroke-width="0.9" stroke-dasharray="2.4 1.8"/>
<line x1="438.60" y1="107.00" x2="441.50" y2="116.60" stroke="#222" stroke-width="0.8" />
<line x1="450.60" y1="81.90" x2="450.90" y2="93.00" stroke="#222" stroke-width="0.7" />
<rect x="429.0" y="73.1" width="42.0" height="8.8" rx="1.2" fill="#fff" stroke="#8a8a8a" stroke-width="0.7"/>
<text x="450.00" y="80.25" font-size="7.6" text-anchor="middle" fill="#000" textLength="39.00" lengthAdjust="spacingAndGlyphs" stroke="rgba(0,0,0,0.5)" stroke-width="0.25">A0A076IXU4</text>
<rect x="425.9" y="84.5" width="25.9" height="8.8" rx="1.2" fill="#fff" stroke="#8a8a8a" stroke-width="0.7"/>
<text x="438.85" y="91.65" font-size="7.6" text-anchor="middle" fill="#000" textLength="22.90" lengthAdjust="spacingAndGlyphs" stroke="rgba(0,0,0,0.5)" stroke-width="0.25">I9R3P9</text>
<rect x="469.6" y="84.5" width="43.8" height="8.4" rx="1.2" fill="#fff" stroke="#8a8a8a" stroke-width="0.7"/>
<text x="491.50" y="91.45" font-size="7.6" text-anchor="middle" fill="#000" textLength="40.80" lengthAdjust="spacingAndGlyphs" stroke="rgba(0,0,0,0.5)" stroke-width="0.25">A0A076IRG9</text>
<rect x="396.1" y="95.0" width="45.2" height="8.7" rx="1.2" fill="#fff" stroke="#8a8a8a" stroke-width="0.7"/>
<text x="418.70" y="102.10" font-size="7.6" text-anchor="middle" fill="#000" textLength="42.20" lengthAdjust="spacingAndGlyphs" stroke="rgba(0,0,0,0.5)" stroke-width="0.25">A0A1C6JPG6</text>
<rect x="467.5" y="94.7" width="43.8" height="9.0" rx="1.2" fill="#fff" stroke="#8a8a8a" stroke-width="0.7"/>
<text x="489.40" y="101.95" font-size="7.6" text-anchor="middle" fill="#000" textLength="40.80" lengthAdjust="spacingAndGlyphs" stroke="rgba(0,0,0,0.5)" stroke-width="0.25">A0A076IMG8</text>
<rect x="398.9" y="105.5" width="29.2" height="7.9" rx="1.2" fill="#fff" stroke="#8a8a8a" stroke-width="0.7"/>
<text x="413.50" y="112.20" font-size="7.6" text-anchor="middle" fill="#000" textLength="26.20" lengthAdjust="spacingAndGlyphs" stroke="rgba(0,0,0,0.5)" stroke-width="0.25">C7H1G6</text>
<rect x="467.5" y="106.4" width="44.1" height="9.6" rx="1.2" fill="#fff" stroke="#8a8a8a" stroke-width="0.7"/>
<text x="489.55" y="113.95" font-size="7.6" text-anchor="middle" fill="#000" textLength="41.10" lengthAdjust="spacingAndGlyphs" stroke="rgba(0,0,0,0.5)" stroke-width="0.25">A0A1C7H380</text>
<rect x="418.2" y="116.4" width="47.2" height="8.7" rx="1.2" fill="#fff" stroke="#8a8a8a" stroke-width="0.7"/>
<text x="441.80" y="123.50" font-size="7.6" text-anchor="middle" fill="#000" textLength="44.20" lengthAdjust="spacingAndGlyphs" stroke="rgba(0,0,0,0.5)" stroke-width="0.25">A0A0P0M2W7</text>
<rect x="384.6" y="138.6" width="25.8" height="7.6" rx="1.2" fill="#fff" stroke="#8a8a8a" stroke-width="0.7"/>
<text x="397.50" y="145.15" font-size="7.6" text-anchor="middle" fill="#000" textLength="22.80" lengthAdjust="spacingAndGlyphs" stroke="rgba(0,0,0,0.5)" stroke-width="0.25">R6TIX3</text>
<rect x="400.1" y="149.5" width="27.0" height="7.9" rx="1.2" fill="#fff" stroke="#8a8a8a" stroke-width="0.7"/>
<text x="413.60" y="156.20" font-size="7.6" text-anchor="middle" fill="#000" textLength="24.00" lengthAdjust="spacingAndGlyphs" stroke="rgba(0,0,0,0.5)" stroke-width="0.25">R5CY66</text>
<rect x="380.0" y="163.4" width="27.3" height="8.2" rx="1.2" fill="#fff" stroke="#8a8a8a" stroke-width="0.7"/>
<text x="393.65" y="170.25" font-size="7.6" text-anchor="middle" fill="#000" textLength="24.30" lengthAdjust="spacingAndGlyphs" stroke="rgba(0,0,0,0.5)" stroke-width="0.25">T5S060</text>
<rect x="408.5" y="160.9" width="29.7" height="8.4" rx="1.2" fill="#fff" stroke="#8a8a8a" stroke-width="0.7"/>
<text x="423.35" y="167.85" font-size="7.6" text-anchor="middle" fill="#000" textLength="26.70" lengthAdjust="spacingAndGlyphs" stroke="rgba(0,0,0,0.5)" stroke-width="0.25">R6CZ24</text>
<circle cx="450.9" cy="94.1" r="1.5" fill="#e8304a" stroke="#ffb0b8" stroke-width="0.6"/>
<circle cx="454.3" cy="88.8" r="1.5" fill="#e8304a" stroke="#ffb0b8" stroke-width="0.6"/>
<circle cx="468.8" cy="83.8" r="1.5" fill="#e8304a" stroke="#ffb0b8" stroke-width="0.6"/>
<circle cx="443.3" cy="99.0" r="1.5" fill="#e8304a" stroke="#ffb0b8" stroke-width="0.6"/>
<circle cx="466.1" cy="94.6" r="1.5" fill="#e8304a" stroke="#ffb0b8" stroke-width="0.6"/>
<circle cx="430.2" cy="105.2" r="1.5" fill="#e8304a" stroke="#ffb0b8" stroke-width="0.6"/>
<circle cx="467.6" cy="105.2" r="1.5" fill="#e8304a" stroke="#ffb0b8" stroke-width="0.6"/>
<circle cx="438.6" cy="107.2" r="1.5" fill="#e8304a" stroke="#ffb0b8" stroke-width="0.6"/>
<circle cx="412.7" cy="139.7" r="1.5" fill="#e8304a" stroke="#ffb0b8" stroke-width="0.6"/>
<circle cx="408.0" cy="159.0" r="1.5" fill="#e8304a" stroke="#ffb0b8" stroke-width="0.6"/>
<circle cx="405.2" cy="161.5" r="1.5" fill="#e8304a" stroke="#ffb0b8" stroke-width="0.6"/>
<circle cx="408.8" cy="159.5" r="1.5" fill="#e8304a" stroke="#ffb0b8" stroke-width="0.6"/>
<rect x="380.3" y="16.0" width="178.50" height="185.30" fill="none" stroke="#444" stroke-width="1"/>
<line x1="376.00" y1="193.60" x2="380.30" y2="193.60" stroke="#444" stroke-width="1" />
<text x="369.80" y="196.50" font-size="8.4" text-anchor="end" fill="#2b2b2b" >0</text>
<line x1="387.80" y1="201.30" x2="387.80" y2="205.30" stroke="#444" stroke-width="1" />
<text x="387.80" y="217.20" font-size="8.4" text-anchor="middle" fill="#2b2b2b" >0</text>
<line x1="376.00" y1="151.18" x2="380.30" y2="151.18" stroke="#444" stroke-width="1" />
<text x="369.80" y="154.08" font-size="8.4" text-anchor="end" fill="#2b2b2b" >0.25</text>
<line x1="428.62" y1="201.30" x2="428.62" y2="205.30" stroke="#444" stroke-width="1" />
<text x="428.62" y="217.20" font-size="8.4" text-anchor="middle" fill="#2b2b2b" >0.25</text>
<line x1="376.00" y1="108.75" x2="380.30" y2="108.75" stroke="#444" stroke-width="1" />
<text x="369.80" y="111.65" font-size="8.4" text-anchor="end" fill="#2b2b2b" >0.50</text>
<line x1="469.45" y1="201.30" x2="469.45" y2="205.30" stroke="#444" stroke-width="1" />
<text x="469.45" y="217.20" font-size="8.4" text-anchor="middle" fill="#2b2b2b" >0.50</text>
<line x1="376.00" y1="66.33" x2="380.30" y2="66.33" stroke="#444" stroke-width="1" />
<text x="369.80" y="69.23" font-size="8.4" text-anchor="end" fill="#2b2b2b" >0.75</text>
<line x1="510.28" y1="201.30" x2="510.28" y2="205.30" stroke="#444" stroke-width="1" />
<text x="510.28" y="217.20" font-size="8.4" text-anchor="middle" fill="#2b2b2b" >0.75</text>
<line x1="376.00" y1="23.90" x2="380.30" y2="23.90" stroke="#444" stroke-width="1" />
<text x="369.80" y="26.80" font-size="8.4" text-anchor="end" fill="#2b2b2b" >1.00</text>
<line x1="551.10" y1="201.30" x2="551.10" y2="205.30" stroke="#444" stroke-width="1" />
<text x="551.10" y="217.20" font-size="8.4" text-anchor="middle" fill="#2b2b2b" >1.00</text>
<text x="469.00" y="233.00" font-size="9.8" text-anchor="middle" fill="#2b2b2b" textLength="90.50" lengthAdjust="spacingAndGlyphs" >1−Specificity (TN/N)</text>
<text x="343.20" y="107.80" font-size="9.8" text-anchor="middle" fill="#2b2b2b" textLength="77.00" lengthAdjust="spacingAndGlyphs" transform="rotate(-90 343.20 107.80)" >Sensitivity (TP/P)</text>
<text x="572.60" y="21.80" font-size="12.5" font-weight="bold" fill="#000" >c</text>
<text x="655.80" y="17.00" font-size="9.6" text-anchor="middle" fill="#2b2b2b" textLength="32.30" lengthAdjust="spacingAndGlyphs" >R6TIX3</text>
<path d="M623.6,53 L640,50.2 L655,46.5 L670,40 L686.4,30.4 L686.4,50 L670,51.2 L655,51.5 L640,52.6 L623.6,56.4 Z" fill="#cfcfcf" opacity="0.85"/>
<rect x="622.2" y="33.0" width="2.8" height="41.7" rx="1.4" fill="#3f5c98"/>
<circle cx="641.1" cy="23.0" r="1.45" fill="#3f5c98" opacity="0.9"/>
<circle cx="645.2" cy="22.5" r="1.45" fill="#3f5c98" opacity="0.9"/>
<circle cx="648.0" cy="21.6" r="1.45" fill="#3f5c98" opacity="0.9"/>
<circle cx="645.2" cy="27.3" r="1.45" fill="#3f5c98" opacity="0.9"/>
<circle cx="666.5" cy="26.7" r="1.45" fill="#3f5c98" opacity="0.9"/>
<circle cx="646.1" cy="40.9" r="1.45" fill="#3f5c98" opacity="0.9"/>
<circle cx="654.4" cy="40.9" r="1.45" fill="#3f5c98" opacity="0.9"/>
<circle cx="657.7" cy="39.1" r="1.45" fill="#3f5c98" opacity="0.9"/>
<circle cx="659.5" cy="39.1" r="1.45" fill="#3f5c98" opacity="0.9"/>
<circle cx="633.4" cy="45.2" r="1.45" fill="#3f5c98" opacity="0.9"/>
<circle cx="630.0" cy="49.8" r="1.45" fill="#3f5c98" opacity="0.9"/>
<circle cx="632.8" cy="55.3" r="1.45" fill="#3f5c98" opacity="0.9"/>
<circle cx="635.6" cy="53.5" r="1.45" fill="#3f5c98" opacity="0.9"/>
<circle cx="639.3" cy="49.8" r="1.45" fill="#3f5c98" opacity="0.9"/>
<circle cx="642.0" cy="53.5" r="1.45" fill="#3f5c98" opacity="0.9"/>
<circle cx="644.8" cy="52.5" r="1.45" fill="#3f5c98" opacity="0.9"/>
<circle cx="648.5" cy="49.8" r="1.45" fill="#3f5c98" opacity="0.9"/>
<circle cx="648.5" cy="53.8" r="1.45" fill="#3f5c98" opacity="0.9"/>
<circle cx="670.2" cy="53.1" r="1.45" fill="#3f5c98" opacity="0.9"/>
<circle cx="635.2" cy="64.1" r="1.45" fill="#3f5c98" opacity="0.9"/>
<circle cx="640.7" cy="64.1" r="1.45" fill="#3f5c98" opacity="0.9"/>
<circle cx="636.0" cy="66.0" r="1.45" fill="#3f5c98" opacity="0.9"/>
<circle cx="639.3" cy="71.0" r="1.45" fill="#3f5c98" opacity="0.9"/>
<circle cx="654.9" cy="75.6" r="1.45" fill="#3f5c98" opacity="0.9"/>
<circle cx="686.4" cy="48.4" r="1.45" fill="#3f5c98" opacity="0.9"/>
<circle cx="628.0" cy="51.0" r="1.45" fill="#3f5c98" opacity="0.9"/>
<circle cx="652.0" cy="48.0" r="1.45" fill="#3f5c98" opacity="0.9"/>
<circle cx="662.0" cy="45.0" r="1.45" fill="#3f5c98" opacity="0.9"/>
<circle cx="677.0" cy="76.5" r="1.45" fill="#3f5c98" opacity="0.9"/>
<circle cx="626.0" cy="60.0" r="1.45" fill="#3f5c98" opacity="0.9"/>
<line x1="623.60" y1="54.60" x2="686.40" y2="39.40" stroke="#d4343f" stroke-width="1.4" />
<line x1="620.80" y1="21.20" x2="620.80" y2="78.40" stroke="#333" stroke-width="1.1" />
<line x1="620.80" y1="78.40" x2="689.40" y2="78.40" stroke="#333" stroke-width="1.1" />
<line x1="616.40" y1="23.10" x2="620.80" y2="23.10" stroke="#333" stroke-width="1" />
<text x="615.00" y="26.20" font-size="8.6" text-anchor="end" fill="#2b2b2b" >22</text>
<line x1="616.40" y1="41.00" x2="620.80" y2="41.00" stroke="#333" stroke-width="1" />
<text x="615.00" y="44.10" font-size="8.6" text-anchor="end" fill="#2b2b2b" >20</text>
<line x1="616.40" y1="59.30" x2="620.80" y2="59.30" stroke="#333" stroke-width="1" />
<text x="615.00" y="62.40" font-size="8.6" text-anchor="end" fill="#2b2b2b" >18</text>
<line x1="616.40" y1="77.40" x2="620.80" y2="77.40" stroke="#333" stroke-width="1" />
<text x="615.00" y="80.50" font-size="8.6" text-anchor="end" fill="#2b2b2b" >16</text>
<line x1="623.50" y1="78.40" x2="623.50" y2="82.80" stroke="#333" stroke-width="1" />
<line x1="645.40" y1="78.40" x2="645.40" y2="82.80" stroke="#333" stroke-width="1" />
<line x1="666.80" y1="78.40" x2="666.80" y2="82.80" stroke="#333" stroke-width="1" />
<line x1="688.70" y1="78.40" x2="688.70" y2="82.80" stroke="#333" stroke-width="1" />
<text x="627.90" y="90.40" font-size="8.6" text-anchor="end" fill="#2b2b2b" transform="rotate(-47 627.90 90.40)">0</text>
<text x="649.80" y="90.40" font-size="8.6" text-anchor="end" fill="#2b2b2b" transform="rotate(-47 649.80 90.40)">1 × 10<tspan font-size="5.6" dy="-3.4">−3</tspan></text>
<text x="671.20" y="90.40" font-size="8.6" text-anchor="end" fill="#2b2b2b" transform="rotate(-47 671.20 90.40)">2 × 10<tspan font-size="5.6" dy="-3.4">−3</tspan></text>
<text x="693.10" y="90.40" font-size="8.6" text-anchor="end" fill="#2b2b2b" transform="rotate(-47 693.10 90.40)">3 × 10<tspan font-size="5.6" dy="-3.4">−3</tspan></text>
<text x="727.50" y="17.40" font-size="9.6" text-anchor="middle" fill="#2b2b2b" textLength="35.00" lengthAdjust="spacingAndGlyphs" >T5S060</text>
<path d="M697.4,52.5 L715,49.5 L730,45 L745,38.5 L760,32 L760,48 L745,48 L730,50 L715,53 L697.4,56 Z" fill="#cfcfcf" opacity="0.85"/>
<rect x="696.0" y="35.5" width="2.8" height="36.0" rx="1.4" fill="#3f5c98"/>
<circle cx="697.4" cy="26.6" r="1.45" fill="#3f5c98" opacity="0.9"/>
<circle cx="697.4" cy="74.0" r="1.45" fill="#3f5c98" opacity="0.9"/>
<circle cx="707.0" cy="56.0" r="1.45" fill="#3f5c98" opacity="0.9"/>
<circle cx="717.0" cy="53.0" r="1.45" fill="#3f5c98" opacity="0.9"/>
<circle cx="719.0" cy="56.0" r="1.45" fill="#3f5c98" opacity="0.9"/>
<circle cx="720.0" cy="51.0" r="1.45" fill="#3f5c98" opacity="0.9"/>
<circle cx="726.0" cy="52.0" r="1.45" fill="#3f5c98" opacity="0.9"/>
<circle cx="727.0" cy="53.0" r="1.45" fill="#3f5c98" opacity="0.9"/>
<circle cx="733.0" cy="34.0" r="1.45" fill="#3f5c98" opacity="0.9"/>
<circle cx="744.0" cy="26.6" r="1.45" fill="#3f5c98" opacity="0.9"/>
<circle cx="749.0" cy="23.0" r="1.45" fill="#3f5c98" opacity="0.9"/>
<circle cx="750.0" cy="22.4" r="1.45" fill="#3f5c98" opacity="0.9"/>
<circle cx="760.0" cy="41.0" r="1.45" fill="#3f5c98" opacity="0.9"/>
<circle cx="759.4" cy="45.6" r="1.45" fill="#3f5c98" opacity="0.9"/>
<circle cx="760.6" cy="48.4" r="1.45" fill="#3f5c98" opacity="0.9"/>
<circle cx="726.0" cy="70.0" r="1.45" fill="#3f5c98" opacity="0.9"/>
<circle cx="729.0" cy="76.0" r="1.45" fill="#3f5c98" opacity="0.9"/>
<circle cx="712.0" cy="55.0" r="1.45" fill="#3f5c98" opacity="0.9"/>
<circle cx="735.0" cy="52.0" r="1.45" fill="#3f5c98" opacity="0.9"/>
<line x1="697.40" y1="54.00" x2="760.00" y2="39.40" stroke="#d4343f" stroke-width="1.4" />
<line x1="694.40" y1="78.40" x2="762.40" y2="78.40" stroke="#333" stroke-width="1.1" />
<line x1="697.40" y1="78.40" x2="697.40" y2="82.80" stroke="#333" stroke-width="1" />
<line x1="711.00" y1="78.40" x2="711.00" y2="82.80" stroke="#333" stroke-width="1" />
<line x1="724.60" y1="78.40" x2="724.60" y2="82.80" stroke="#333" stroke-width="1" />
<line x1="738.00" y1="78.40" x2="738.00" y2="82.80" stroke="#333" stroke-width="1" />
<line x1="751.60" y1="78.40" x2="751.60" y2="82.80" stroke="#333" stroke-width="1" />
<text x="701.80" y="90.40" font-size="8.6" text-anchor="end" fill="#2b2b2b" transform="rotate(-47 701.80 90.40)">0</text>
<text x="715.40" y="90.40" font-size="8.6" text-anchor="end" fill="#2b2b2b" transform="rotate(-47 715.40 90.40)">5.0 × 10<tspan font-size="5.6" dy="-3.4">−4</tspan></text>
<text x="729.00" y="90.40" font-size="8.6" text-anchor="end" fill="#2b2b2b" transform="rotate(-47 729.00 90.40)">1.0 × 10<tspan font-size="5.6" dy="-3.4">−3</tspan></text>
<text x="742.40" y="90.40" font-size="8.6" text-anchor="end" fill="#2b2b2b" transform="rotate(-47 742.40 90.40)">1.5 × 10<tspan font-size="5.6" dy="-3.4">−3</tspan></text>
<text x="756.00" y="90.40" font-size="8.6" text-anchor="end" fill="#2b2b2b" transform="rotate(-47 756.00 90.40)">2.0 × 10<tspan font-size="5.6" dy="-3.4">−3</tspan></text>
<text x="593.4" y="96.4" font-size="9.6" text-anchor="middle" fill="#2b2b2b" transform="rotate(-90 593.4 96.4)" textLength="67.7" lengthAdjust="spacingAndGlyphs"><tspan font-style="italic">N</tspan>-acetyl 5-ASA</text>
<text x="692.20" y="129.80" font-size="9.6" text-anchor="middle" fill="#2b2b2b" textLength="59.50" lengthAdjust="spacingAndGlyphs" >A0A1C6JPG6</text>
<path d="M660.7,169.5 L680,166.5 L700,161.5 L714,157.5 L727,153.5 L727,164.5 L714,165.5 L700,167.3 L680,170.5 L660.7,174 Z" fill="#d2d2d2" opacity="0.85"/>
<rect x="659.3" y="152.0" width="2.8" height="38.0" rx="1.4" fill="#3f5c98"/>
<circle cx="677.0" cy="157.5" r="1.45" fill="#3f5c98" opacity="0.9"/>
<circle cx="670.0" cy="164.7" r="1.45" fill="#3f5c98" opacity="0.9"/>
<circle cx="674.0" cy="172.3" r="1.45" fill="#3f5c98" opacity="0.9"/>
<circle cx="683.2" cy="166.2" r="1.45" fill="#3f5c98" opacity="0.9"/>
<circle cx="683.2" cy="149.4" r="1.45" fill="#3f5c98" opacity="0.9"/>
<circle cx="688.6" cy="162.5" r="1.45" fill="#3f5c98" opacity="0.9"/>
<circle cx="690.8" cy="156.0" r="1.45" fill="#3f5c98" opacity="0.9"/>
<circle cx="691.9" cy="161.4" r="1.45" fill="#3f5c98" opacity="0.9"/>
<circle cx="689.7" cy="171.2" r="1.45" fill="#3f5c98" opacity="0.9"/>
<circle cx="695.2" cy="141.8" r="1.45" fill="#3f5c98" opacity="0.9"/>
<circle cx="693.0" cy="141.8" r="1.45" fill="#3f5c98" opacity="0.9"/>
<circle cx="695.2" cy="160.3" r="1.45" fill="#3f5c98" opacity="0.9"/>
<circle cx="696.3" cy="159.2" r="1.45" fill="#3f5c98" opacity="0.9"/>
<circle cx="685.8" cy="175.6" r="1.45" fill="#3f5c98" opacity="0.9"/>
<circle cx="686.4" cy="178.8" r="1.45" fill="#3f5c98" opacity="0.9"/>
<circle cx="687.5" cy="185.4" r="1.45" fill="#3f5c98" opacity="0.9"/>
<circle cx="691.9" cy="176.6" r="1.45" fill="#3f5c98" opacity="0.9"/>
<circle cx="694.0" cy="181.0" r="1.45" fill="#3f5c98" opacity="0.9"/>
<circle cx="702.8" cy="161.4" r="1.45" fill="#3f5c98" opacity="0.9"/>
<circle cx="712.6" cy="166.8" r="1.45" fill="#3f5c98" opacity="0.9"/>
<circle cx="713.7" cy="168.4" r="1.45" fill="#3f5c98" opacity="0.9"/>
<circle cx="711.5" cy="139.2" r="1.45" fill="#3f5c98" opacity="0.9"/>
<circle cx="720.2" cy="138.5" r="1.45" fill="#3f5c98" opacity="0.9"/>
<circle cx="724.6" cy="161.0" r="1.45" fill="#3f5c98" opacity="0.9"/>
<circle cx="717.0" cy="193.0" r="1.45" fill="#3f5c98" opacity="0.9"/>
<circle cx="680.0" cy="172.3" r="1.45" fill="#3f5c98" opacity="0.9"/>
<circle cx="676.6" cy="170.0" r="1.45" fill="#3f5c98" opacity="0.9"/>
<circle cx="699.0" cy="163.0" r="1.45" fill="#3f5c98" opacity="0.9"/>
<circle cx="705.0" cy="167.0" r="1.45" fill="#3f5c98" opacity="0.9"/>
<circle cx="698.0" cy="178.0" r="1.45" fill="#3f5c98" opacity="0.9"/>
<circle cx="708.0" cy="185.0" r="1.45" fill="#3f5c98" opacity="0.9"/>
<circle cx="702.0" cy="176.0" r="1.45" fill="#3f5c98" opacity="0.9"/>
<line x1="660.70" y1="171.60" x2="726.80" y2="161.40" stroke="#d4343f" stroke-width="1.4" />
<line x1="658.80" y1="137.40" x2="658.80" y2="194.60" stroke="#333" stroke-width="1.1" />
<line x1="658.80" y1="194.60" x2="727.20" y2="194.60" stroke="#333" stroke-width="1.1" />
<line x1="654.40" y1="139.20" x2="658.80" y2="139.20" stroke="#333" stroke-width="1" />
<text x="649.00" y="142.30" font-size="8.6" text-anchor="end" fill="#2b2b2b" >22</text>
<line x1="654.40" y1="157.30" x2="658.80" y2="157.30" stroke="#333" stroke-width="1" />
<text x="649.00" y="160.40" font-size="8.6" text-anchor="end" fill="#2b2b2b" >20</text>
<line x1="654.40" y1="175.50" x2="658.80" y2="175.50" stroke="#333" stroke-width="1" />
<text x="649.00" y="178.60" font-size="8.6" text-anchor="end" fill="#2b2b2b" >18</text>
<line x1="654.40" y1="193.60" x2="658.80" y2="193.60" stroke="#333" stroke-width="1" />
<text x="649.00" y="196.70" font-size="8.6" text-anchor="end" fill="#2b2b2b" >16</text>
<line x1="660.70" y1="194.60" x2="660.70" y2="199.00" stroke="#333" stroke-width="1" />
<line x1="676.00" y1="194.60" x2="676.00" y2="199.00" stroke="#333" stroke-width="1" />
<line x1="691.00" y1="194.60" x2="691.00" y2="199.00" stroke="#333" stroke-width="1" />
<line x1="706.00" y1="194.60" x2="706.00" y2="199.00" stroke="#333" stroke-width="1" />
<line x1="720.90" y1="194.60" x2="720.90" y2="199.00" stroke="#333" stroke-width="1" />
<text x="665.10" y="206.00" font-size="8.6" text-anchor="end" fill="#2b2b2b" transform="rotate(-47 665.10 206.00)">0</text>
<text x="680.40" y="206.00" font-size="8.6" text-anchor="end" fill="#2b2b2b" transform="rotate(-47 680.40 206.00)">5.0 × 10<tspan font-size="5.6" dy="-3.4">−4</tspan></text>
<text x="695.40" y="206.00" font-size="8.6" text-anchor="end" fill="#2b2b2b" transform="rotate(-47 695.40 206.00)">1.0 × 10<tspan font-size="5.6" dy="-3.4">−3</tspan></text>
<text x="710.40" y="206.00" font-size="8.6" text-anchor="end" fill="#2b2b2b" transform="rotate(-47 710.40 206.00)">1.5 × 10<tspan font-size="5.6" dy="-3.4">−3</tspan></text>
<text x="725.30" y="206.00" font-size="8.6" text-anchor="end" fill="#2b2b2b" transform="rotate(-47 725.30 206.00)">2.0 × 10<tspan font-size="5.6" dy="-3.4">−3</tspan></text>
<text x="679.60" y="245.30" font-size="9.8" text-anchor="middle" fill="#2b2b2b" textLength="97.40" lengthAdjust="spacingAndGlyphs" >Rel. abund. (asin sqrt)</text>
<text x="655.70" y="66.30" font-size="7.4" fill="#2b2b2b" textLength="34.00" lengthAdjust="spacingAndGlyphs"><tspan font-style="italic">P</tspan> = 0.006</text>
<text x="656.00" y="75.80" font-size="7.4" fill="#2b2b2b" textLength="31.50" lengthAdjust="spacingAndGlyphs"><tspan font-style="italic">R</tspan><tspan font-size="5" dy="-3">2</tspan><tspan dy="3"> = 0.08</tspan></text>
<text x="729.50" y="66.30" font-size="7.4" fill="#2b2b2b" textLength="32.20" lengthAdjust="spacingAndGlyphs"><tspan font-style="italic">P</tspan> = 0.001</text>
<text x="729.50" y="75.80" font-size="7.4" fill="#2b2b2b" textLength="28.20" lengthAdjust="spacingAndGlyphs"><tspan font-style="italic">R</tspan><tspan font-size="5" dy="-3">2</tspan><tspan dy="3"> = 0.11</tspan></text>
<text x="697.30" y="182.40" font-size="7.4" fill="#2b2b2b" textLength="30.70" lengthAdjust="spacingAndGlyphs"><tspan font-style="italic">P</tspan> = 0.017</text>
<text x="694.30" y="191.80" font-size="7.4" fill="#2b2b2b" textLength="32.60" lengthAdjust="spacingAndGlyphs"><tspan font-style="italic">R</tspan><tspan font-size="5" dy="-3">2</tspan><tspan dy="3"> = 0.06</tspan></text>
<text x="327.60" y="266.50" font-size="12.5" font-weight="bold" fill="#000" >d</text>
<line x1="379.10" y1="261.00" x2="379.10" y2="375.70" stroke="#333" stroke-width="0.9" />
<line x1="379.10" y1="261.00" x2="381.20" y2="261.00" stroke="#333" stroke-width="0.9" />
<line x1="379.10" y1="375.70" x2="381.20" y2="375.70" stroke="#333" stroke-width="0.9" />
<line x1="377.00" y1="322.00" x2="379.10" y2="322.00" stroke="#333" stroke-width="0.9" />
<line x1="379.10" y1="379.50" x2="379.10" y2="461.90" stroke="#333" stroke-width="0.9" />
<line x1="379.10" y1="379.50" x2="381.20" y2="379.50" stroke="#333" stroke-width="0.9" />
<line x1="379.10" y1="461.90" x2="381.20" y2="461.90" stroke="#333" stroke-width="0.9" />
<line x1="377.00" y1="423.90" x2="379.10" y2="423.90" stroke="#333" stroke-width="0.9" />
<text x="373.30" y="316.70" font-size="7.4" text-anchor="end" fill="#2b2b2b" textLength="36.20" lengthAdjust="spacingAndGlyphs" >IPR016181,</text>
<text x="373.30" y="325.40" font-size="7.4" text-anchor="end" fill="#2b2b2b" textLength="32.20" lengthAdjust="spacingAndGlyphs" >Acyl CoA</text>
<text x="373.3" y="334.1" font-size="7.4" text-anchor="end" fill="#2b2b2b" textLength="61.3" lengthAdjust="spacingAndGlyphs"><tspan font-style="italic">N</tspan>-acyltransferase</text>
<text x="373.30" y="421.90" font-size="7.4" text-anchor="end" fill="#2b2b2b" textLength="38.70" lengthAdjust="spacingAndGlyphs" >IPR002155,</text>
<text x="373.30" y="430.90" font-size="7.4" text-anchor="end" fill="#2b2b2b" textLength="28.70" lengthAdjust="spacingAndGlyphs" >Thiolase</text>
<line x1="388.20" y1="332.80" x2="388.20" y2="435.00" stroke="#4a4a60" stroke-width="0.9" />
<line x1="388.20" y1="332.80" x2="440.60" y2="332.80" stroke="#4a4a60" stroke-width="0.9" />
<line x1="388.20" y1="435.00" x2="440.60" y2="435.00" stroke="#4a4a60" stroke-width="0.9" />
<line x1="440.60" y1="295.80" x2="440.60" y2="369.60" stroke="#4a4a60" stroke-width="0.9" />
<line x1="440.60" y1="369.60" x2="537.30" y2="369.60" stroke="#4a4a60" stroke-width="0.9" />
<line x1="440.60" y1="295.80" x2="444.50" y2="295.80" stroke="#4a4a60" stroke-width="0.9" />
<line x1="444.50" y1="260.00" x2="444.50" y2="332.00" stroke="#4a4a60" stroke-width="0.9" />
<line x1="444.50" y1="260.00" x2="535.90" y2="260.00" stroke="#4a4a60" stroke-width="0.9" />
<line x1="444.50" y1="332.00" x2="448.10" y2="332.00" stroke="#4a4a60" stroke-width="0.9" />
<line x1="448.10" y1="312.70" x2="448.10" y2="351.50" stroke="#4a4a60" stroke-width="0.9" />
<line x1="448.10" y1="351.50" x2="540.90" y2="351.50" stroke="#4a4a60" stroke-width="0.9" />
<line x1="448.10" y1="312.70" x2="484.70" y2="312.70" stroke="#4a4a60" stroke-width="0.9" />
<line x1="484.70" y1="291.80" x2="484.70" y2="333.40" stroke="#4a4a60" stroke-width="0.9" />
<line x1="484.70" y1="333.40" x2="563.90" y2="333.40" stroke="#4a4a60" stroke-width="0.9" />
<line x1="484.70" y1="291.80" x2="487.30" y2="291.80" stroke="#4a4a60" stroke-width="0.9" />
<line x1="487.30" y1="278.50" x2="487.30" y2="305.90" stroke="#4a4a60" stroke-width="0.9" />
<line x1="487.30" y1="278.50" x2="566.00" y2="278.50" stroke="#4a4a60" stroke-width="0.9" />
<line x1="487.30" y1="305.90" x2="493.90" y2="305.90" stroke="#4a4a60" stroke-width="0.9" />
<line x1="493.90" y1="296.80" x2="493.90" y2="315.30" stroke="#4a4a60" stroke-width="0.9" />
<line x1="493.90" y1="296.80" x2="571.90" y2="296.80" stroke="#4a4a60" stroke-width="0.9" />
<line x1="493.90" y1="315.30" x2="576.50" y2="315.30" stroke="#4a4a60" stroke-width="0.9" />
<line x1="440.60" y1="408.60" x2="440.60" y2="460.30" stroke="#4a4a60" stroke-width="0.9" />
<line x1="440.60" y1="460.30" x2="455.30" y2="460.30" stroke="#4a4a60" stroke-width="0.9" />
<line x1="440.60" y1="408.60" x2="443.00" y2="408.60" stroke="#4a4a60" stroke-width="0.9" />
<line x1="443.00" y1="388.20" x2="443.00" y2="429.10" stroke="#4a4a60" stroke-width="0.9" />
<line x1="443.00" y1="388.20" x2="455.30" y2="388.20" stroke="#4a4a60" stroke-width="0.9" />
<line x1="443.00" y1="429.10" x2="445.30" y2="429.10" stroke="#4a4a60" stroke-width="0.9" />
<line x1="445.30" y1="415.60" x2="445.30" y2="443.60" stroke="#4a4a60" stroke-width="0.9" />
<line x1="445.30" y1="443.60" x2="455.30" y2="443.60" stroke="#4a4a60" stroke-width="0.9" />
<line x1="445.30" y1="415.60" x2="447.40" y2="415.60" stroke="#4a4a60" stroke-width="0.9" />
<line x1="447.40" y1="406.00" x2="447.40" y2="425.30" stroke="#4a4a60" stroke-width="0.9" />
<line x1="447.40" y1="406.00" x2="455.30" y2="406.00" stroke="#4a4a60" stroke-width="0.9" />
<line x1="447.40" y1="425.30" x2="455.30" y2="425.30" stroke="#4a4a60" stroke-width="0.9" />
<circle cx="388.20" cy="383.90" r="1.25" fill="#1c1c30"/>
<circle cx="440.60" cy="332.80" r="1.25" fill="#1c1c30"/>
<circle cx="444.50" cy="295.80" r="1.25" fill="#1c1c30"/>
<circle cx="448.10" cy="332.00" r="1.25" fill="#1c1c30"/>
<circle cx="484.70" cy="312.70" r="1.25" fill="#1c1c30"/>
<circle cx="487.30" cy="291.80" r="1.25" fill="#1c1c30"/>
<circle cx="493.90" cy="305.90" r="1.25" fill="#1c1c30"/>
<circle cx="440.60" cy="434.90" r="1.25" fill="#1c1c30"/>
<circle cx="443.00" cy="408.60" r="1.25" fill="#1c1c30"/>
<circle cx="445.30" cy="429.10" r="1.25" fill="#1c1c30"/>
<circle cx="447.40" cy="415.60" r="1.25" fill="#1c1c30"/>
<text x="540.50" y="260.30" font-size="7.3" fill="#1e1e2e" textLength="46.00" lengthAdjust="spacingAndGlyphs" >A0A1C7H380</text>
<text x="540.50" y="267.30" font-size="7.3" font-style="italic" fill="#2a3f6a" textLength="84.70" lengthAdjust="spacingAndGlyphs" >(Bacteroides caecimuris)</text>
<text x="571.40" y="279.20" font-size="7.3" fill="#1e1e2e" textLength="45.00" lengthAdjust="spacingAndGlyphs" >A0A076IRG9</text>
<text x="571.40" y="285.60" font-size="7.3" font-style="italic" fill="#2a3f6a" textLength="70.00" lengthAdjust="spacingAndGlyphs" >(Phocaeicola dorei)</text>
<text x="576.50" y="297.00" font-size="7.3" fill="#1e1e2e" textLength="27.00" lengthAdjust="spacingAndGlyphs" >I9R3P9</text>
<text x="576.50" y="303.90" font-size="7.3" font-style="italic" fill="#2a3f6a" textLength="70.00" lengthAdjust="spacingAndGlyphs" >(Bacteroides dorei)</text>
<text x="581.30" y="314.80" font-size="7.3" fill="#1e1e2e" textLength="50.50" lengthAdjust="spacingAndGlyphs" >A0A0P0M2W7</text>
<text x="581.30" y="321.70" font-size="7.3" font-style="italic" fill="#2a3f6a" textLength="80.00" lengthAdjust="spacingAndGlyphs" >(Bacteroides vulgatus)</text>
<text x="568.70" y="332.60" font-size="7.3" fill="#1e1e2e" textLength="28.00" lengthAdjust="spacingAndGlyphs" >C7H1G6</text>
<text x="568.70" y="339.10" font-size="7.3" font-style="italic" fill="#2a3f6a" textLength="99.00" lengthAdjust="spacingAndGlyphs" >(Faecalibacterium prausnitzii)</text>
<text x="546.30" y="350.60" font-size="7.3" fill="#1e1e2e" textLength="45.00" lengthAdjust="spacingAndGlyphs" >A0A076IXU4</text>
<text x="546.30" y="357.30" font-size="7.3" font-style="italic" fill="#2a3f6a" textLength="70.00" lengthAdjust="spacingAndGlyphs" >(Phocaeicola dorei)</text>
<text x="542.10" y="368.80" font-size="7.3" fill="#1e1e2e" textLength="45.00" lengthAdjust="spacingAndGlyphs" >A0A076IMG8</text>
<text x="542.10" y="375.10" font-size="7.3" font-style="italic" fill="#2a3f6a" textLength="70.00" lengthAdjust="spacingAndGlyphs" >(Phocaeicola dorei)</text>
<text x="458.40" y="389.00" font-size="7.3" fill="#1e1e2e" textLength="45.50" lengthAdjust="spacingAndGlyphs" >A0A1C6JPG6</text>
<text x="458.40" y="398.10" font-size="7.3" font-style="italic" fill="#2a3f6a" textLength="92.20" lengthAdjust="spacingAndGlyphs" >(Oscillibacter sp. CAG:155)</text>
<text x="458.40" y="407.70" font-size="7.3" fill="#1e1e2e" textLength="27.50" lengthAdjust="spacingAndGlyphs" >R6TIX3</text>
<text x="458.40" y="415.10" font-size="7.3" font-style="italic" fill="#2a3f6a" textLength="93.00" lengthAdjust="spacingAndGlyphs" >(Oscillibacter sp. KLE 1745)</text>
<text x="458.40" y="425.20" font-size="7.3" fill="#1e1e2e" textLength="29.00" lengthAdjust="spacingAndGlyphs" >R6CZ24</text>
<text x="458.40" y="433.10" font-size="7.3" font-style="italic" fill="#2a3f6a" textLength="107.00" lengthAdjust="spacingAndGlyphs" >(Firmicutes bacterium CAG:176)</text>
<text x="458.40" y="443.30" font-size="7.3" fill="#1e1e2e" textLength="29.00" lengthAdjust="spacingAndGlyphs" >R5CY66</text>
<text x="458.40" y="452.00" font-size="7.3" font-style="italic" fill="#2a3f6a" textLength="101.00" lengthAdjust="spacingAndGlyphs" >(Firmicutes bacterium CAG:83)</text>
<text x="458.40" y="462.00" font-size="7.3" fill="#1e1e2e" textLength="29.00" lengthAdjust="spacingAndGlyphs" >T5S060</text>
<text x="458.40" y="469.90" font-size="7.3" font-style="italic" fill="#2a3f6a" textLength="113.50" lengthAdjust="spacingAndGlyphs" >(Ruminococcaceae bacterium D16)</text>
<text x="670.30" y="265.80" font-size="12.5" font-weight="bold" fill="#000" >f</text>
<line x1="667.80" y1="386.10" x2="678.60" y2="386.10" stroke="#cf6464" stroke-width="2.4" />
<line x1="678.40" y1="339.00" x2="678.40" y2="386.10" stroke="#f08c8c" stroke-width="1.2" />
<line x1="678.40" y1="386.10" x2="678.40" y2="432.00" stroke="#1fc3c8" stroke-width="1.2" />
<line x1="678.40" y1="339.00" x2="688.30" y2="339.00" stroke="#f08c8c" stroke-width="1.1" />
<line x1="688.30" y1="320.10" x2="688.30" y2="339.00" stroke="#f08c8c" stroke-width="1.1" />
<line x1="688.30" y1="339.00" x2="688.30" y2="358.30" stroke="#cf8ee0" stroke-width="1.1" />
<line x1="688.30" y1="320.10" x2="712.00" y2="320.10" stroke="#f08c8c" stroke-width="1.1" />
<line x1="712.00" y1="300.00" x2="712.00" y2="331.00" stroke="#f08c8c" stroke-width="1.0" />
<line x1="713.20" y1="280.00" x2="713.20" y2="318.00" stroke="#f08c8c" stroke-width="1.0" />
<line x1="714.40" y1="263.00" x2="714.40" y2="300.00" stroke="#f08c8c" stroke-width="1.0" />
<line x1="688.30" y1="358.30" x2="698.40" y2="358.30" stroke="#cf8ee0" stroke-width="1.1" />
<line x1="698.40" y1="352.60" x2="698.40" y2="365.40" stroke="#cf8ee0" stroke-width="1.1" />
<line x1="698.40" y1="352.60" x2="710.50" y2="352.60" stroke="#cf8ee0" stroke-width="1.1" />
<line x1="710.50" y1="337.00" x2="710.50" y2="358.00" stroke="#cf8ee0" stroke-width="1.0" />
<line x1="698.40" y1="365.40" x2="711.30" y2="365.40" stroke="#cf8ee0" stroke-width="1.1" />
<line x1="678.40" y1="432.00" x2="686.20" y2="432.00" stroke="#1fc3c8" stroke-width="1.1" />
<line x1="686.20" y1="414.40" x2="686.20" y2="451.30" stroke="#1fc3c8" stroke-width="1.1" />
<line x1="686.20" y1="451.30" x2="711.90" y2="451.30" stroke="#1fc3c8" stroke-width="1.1" />
<line x1="711.90" y1="439.50" x2="711.90" y2="460.50" stroke="#1fc3c8" stroke-width="1.1" />
<line x1="686.20" y1="414.40" x2="692.60" y2="414.40" stroke="#1fc3c8" stroke-width="1.1" />
<line x1="692.60" y1="399.30" x2="692.60" y2="429.50" stroke="#1fc3c8" stroke-width="1.1" />
<line x1="692.60" y1="429.50" x2="715.20" y2="429.50" stroke="#1fc3c8" stroke-width="1.1" />
<line x1="715.20" y1="425.30" x2="715.20" y2="432.80" stroke="#1fc3c8" stroke-width="1.1" />
<line x1="692.60" y1="399.30" x2="701.00" y2="399.30" stroke="#1fc3c8" stroke-width="1.1" />
<line x1="701.00" y1="386.00" x2="701.00" y2="413.60" stroke="#1fc3c8" stroke-width="1.1" />
<line x1="701.00" y1="386.00" x2="723.30" y2="386.00" stroke="#1fc3c8" stroke-width="1.1" />
<line x1="723.30" y1="371.70" x2="723.30" y2="391.80" stroke="#1fc3c8" stroke-width="1.1" />
<line x1="701.00" y1="413.60" x2="711.00" y2="413.60" stroke="#1fc3c8" stroke-width="1.1" />
<line x1="711.00" y1="406.90" x2="711.00" y2="418.60" stroke="#1fc3c8" stroke-width="1.1" />
<line x1="711.00" y1="406.90" x2="723.60" y2="406.90" stroke="#1fc3c8" stroke-width="1.1" />
<line x1="723.60" y1="399.30" x2="723.60" y2="410.20" stroke="#1fc3c8" stroke-width="1.1" />
<line x1="711.00" y1="418.60" x2="725.30" y2="418.60" stroke="#1fc3c8" stroke-width="1.1" />
<line x1="714.40" y1="262.80" x2="717.20" y2="262.80" stroke="#f08c8c" stroke-width="0.9" />
<text x="718.00" y="265.00" font-size="6.2" fill="#151515" textLength="15.50" lengthAdjust="spacingAndGlyphs" stroke-width="0.35" stroke="rgba(0,0,0,0.45)">M21/2</text>
<circle cx="738.1" cy="263.3" r="2.6" fill="none" stroke="#4566b0" stroke-width="0.95"/>
<line x1="714.40" y1="269.60" x2="717.20" y2="269.60" stroke="#f08c8c" stroke-width="0.9" />
<text x="718.00" y="271.80" font-size="6.2" fill="#151515" textLength="21.40" lengthAdjust="spacingAndGlyphs" stroke-width="0.35" stroke="rgba(0,0,0,0.45)">918/95b</text>
<circle cx="744.0" cy="270.1" r="2.6" fill="none" stroke="#4566b0" stroke-width="0.95"/>
<line x1="714.40" y1="276.80" x2="717.20" y2="276.80" stroke="#f08c8c" stroke-width="0.9" />
<text x="718.00" y="279.00" font-size="6.2" fill="#151515" textLength="30.40" lengthAdjust="spacingAndGlyphs" stroke-width="0.35" stroke="rgba(0,0,0,0.45)">CNCM 4546</text>
<circle cx="753.0" cy="277.3" r="2.6" fill="none" stroke="#4566b0" stroke-width="0.95"/>
<line x1="714.40" y1="283.20" x2="717.20" y2="283.20" stroke="#f08c8c" stroke-width="0.9" />
<text x="718.00" y="285.40" font-size="6.2" fill="#151515" textLength="30.40" lengthAdjust="spacingAndGlyphs" stroke-width="0.35" stroke="rgba(0,0,0,0.45)">CNCM 4575</text>
<circle cx="753.0" cy="283.7" r="2.6" fill="none" stroke="#4566b0" stroke-width="0.95"/>
<line x1="714.40" y1="290.40" x2="717.20" y2="290.40" stroke="#f08c8c" stroke-width="0.9" />
<text x="718.00" y="292.60" font-size="6.2" fill="#151515" textLength="14.00" lengthAdjust="spacingAndGlyphs" stroke-width="0.35" stroke="rgba(0,0,0,0.45)">SL3/3</text>
<circle cx="736.6" cy="290.9" r="2.6" fill="none" stroke="#4566b0" stroke-width="0.95"/>
<line x1="714.40" y1="297.00" x2="717.20" y2="297.00" stroke="#f08c8c" stroke-width="0.9" />
<text x="718.00" y="299.20" font-size="6.2" fill="#151515" textLength="20.30" lengthAdjust="spacingAndGlyphs" stroke-width="0.35" stroke="rgba(0,0,0,0.45)">924/119</text>
<circle cx="742.9" cy="297.5" r="2.6" fill="none" stroke="#4566b0" stroke-width="0.95"/>
<line x1="713.20" y1="303.50" x2="717.20" y2="303.50" stroke="#f08c8c" stroke-width="0.9" />
<text x="718.00" y="305.70" font-size="6.2" fill="#151515" textLength="30.40" lengthAdjust="spacingAndGlyphs" stroke-width="0.35" stroke="rgba(0,0,0,0.45)">ATCC 27768</text>
<circle cx="753.0" cy="304.0" r="2.6" fill="none" stroke="#4566b0" stroke-width="0.95"/>
<line x1="713.20" y1="310.60" x2="717.20" y2="310.60" stroke="#f08c8c" stroke-width="0.9" />
<text x="718.00" y="312.80" font-size="6.2" fill="#151515" textLength="33.10" lengthAdjust="spacingAndGlyphs" stroke-width="0.35" stroke="rgba(0,0,0,0.45)">ATCC 27768T</text>
<circle cx="755.7" cy="311.1" r="2.6" fill="none" stroke="#4566b0" stroke-width="0.95"/>
<line x1="713.20" y1="317.10" x2="717.20" y2="317.10" stroke="#f08c8c" stroke-width="0.9" />
<text x="718.00" y="319.30" font-size="6.2" fill="#151515" textLength="48.70" lengthAdjust="spacingAndGlyphs" stroke-width="0.35" stroke="rgba(0,0,0,0.45)">2789STDY5834970</text>
<circle cx="771.3" cy="317.6" r="2.6" fill="none" stroke="#4566b0" stroke-width="0.95"/>
<line x1="712.00" y1="323.90" x2="717.20" y2="323.90" stroke="#f08c8c" stroke-width="0.9" />
<text x="718.00" y="326.10" font-size="6.2" fill="#151515" textLength="28.60" lengthAdjust="spacingAndGlyphs" stroke-width="0.35" stroke="rgba(0,0,0,0.45)">CNCM 4644</text>
<circle cx="751.2" cy="324.4" r="2.6" fill="none" stroke="#4566b0" stroke-width="0.95"/>
<line x1="712.00" y1="331.00" x2="717.20" y2="331.00" stroke="#f08c8c" stroke-width="0.9" />
<text x="718.00" y="333.20" font-size="6.2" fill="#151515" textLength="20.30" lengthAdjust="spacingAndGlyphs" stroke-width="0.35" stroke="rgba(0,0,0,0.45)">923/B1-1</text>
<circle cx="742.9" cy="331.5" r="2.6" fill="none" stroke="#4566b0" stroke-width="0.95"/>
<line x1="710.50" y1="337.50" x2="712.70" y2="337.50" stroke="#cf8ee0" stroke-width="0.9" />
<text x="713.50" y="339.70" font-size="6.2" fill="#151515" textLength="31.60" lengthAdjust="spacingAndGlyphs" stroke-width="0.35" stroke="rgba(0,0,0,0.45)">CNCM 4544</text>
<circle cx="749.7" cy="338.0" r="2.6" fill="none" stroke="#4566b0" stroke-width="0.95"/>
<line x1="710.50" y1="344.40" x2="712.70" y2="344.40" stroke="#cf8ee0" stroke-width="0.9" />
<text x="713.50" y="346.60" font-size="6.2" fill="#151515" textLength="31.90" lengthAdjust="spacingAndGlyphs" stroke-width="0.35" stroke="rgba(0,0,0,0.45)">CNCM 4542</text>
<circle cx="750.0" cy="344.9" r="2.6" fill="none" stroke="#4566b0" stroke-width="0.95"/>
<line x1="710.50" y1="351.20" x2="712.70" y2="351.20" stroke="#cf8ee0" stroke-width="0.9" />
<text x="713.50" y="353.40" font-size="6.2" fill="#151515" textLength="22.90" lengthAdjust="spacingAndGlyphs" stroke-width="0.35" stroke="rgba(0,0,0,0.45)">KLE1255</text>
<circle cx="741.0" cy="351.7" r="2.6" fill="none" stroke="#4566b0" stroke-width="0.95"/>
<line x1="710.50" y1="357.90" x2="712.70" y2="357.90" stroke="#cf8ee0" stroke-width="0.9" />
<text x="713.50" y="360.10" font-size="6.2" fill="#151515" textLength="29.80" lengthAdjust="spacingAndGlyphs" stroke-width="0.35" stroke="rgba(0,0,0,0.45)">CNCM 4540</text>
<circle cx="747.9" cy="358.4" r="2.6" fill="none" stroke="#4566b0" stroke-width="0.95"/>
<line x1="710.50" y1="365.40" x2="712.70" y2="365.40" stroke="#cf8ee0" stroke-width="0.9" />
<text x="713.50" y="367.60" font-size="6.2" fill="#151515" textLength="29.80" lengthAdjust="spacingAndGlyphs" stroke-width="0.35" stroke="rgba(0,0,0,0.45)">CNCM 4541</text>
<circle cx="747.9" cy="365.9" r="2.6" fill="none" stroke="#4566b0" stroke-width="0.95"/>
<line x1="723.30" y1="371.50" x2="726.30" y2="371.50" stroke="#1fc3c8" stroke-width="0.9" />
<text x="727.10" y="373.70" font-size="6.2" fill="#151515" textLength="29.30" lengthAdjust="spacingAndGlyphs" stroke-width="0.35" stroke="rgba(0,0,0,0.45)">CNCM 4534</text>
<circle cx="761.0" cy="372.0" r="3.0" fill="#3a62bb"/>
<line x1="723.30" y1="378.20" x2="726.30" y2="378.20" stroke="#1fc3c8" stroke-width="0.9" />
<text x="727.10" y="380.40" font-size="6.2" fill="#151515" textLength="29.80" lengthAdjust="spacingAndGlyphs" stroke-width="0.35" stroke="rgba(0,0,0,0.45)">CNCM 4543</text>
<circle cx="761.5" cy="378.7" r="3.0" fill="#3a62bb"/>
<line x1="723.30" y1="385.00" x2="726.30" y2="385.00" stroke="#1fc3c8" stroke-width="0.9" />
<text x="727.10" y="387.20" font-size="6.2" fill="#151515" textLength="18.80" lengthAdjust="spacingAndGlyphs" stroke-width="0.35" stroke="rgba(0,0,0,0.45)">A2-165</text>
<circle cx="750.5" cy="385.5" r="3.0" fill="#3a62bb"/>
<line x1="723.30" y1="391.80" x2="726.30" y2="391.80" stroke="#1fc3c8" stroke-width="0.9" />
<text x="727.10" y="394.00" font-size="6.2" fill="#151515" textLength="18.80" lengthAdjust="spacingAndGlyphs" stroke-width="0.35" stroke="rgba(0,0,0,0.45)">HML19</text>
<circle cx="750.5" cy="392.3" r="3.0" fill="#3a62bb"/>
<line x1="723.30" y1="398.90" x2="726.30" y2="398.90" stroke="#1fc3c8" stroke-width="0.9" />
<text x="727.10" y="401.10" font-size="6.2" fill="#151515" textLength="47.40" lengthAdjust="spacingAndGlyphs" stroke-width="0.35" stroke="rgba(0,0,0,0.45)">2789STDY5608869</text>
<circle cx="779.1" cy="399.4" r="2.6" fill="none" stroke="#4566b0" stroke-width="0.95"/>
<line x1="723.30" y1="405.60" x2="726.30" y2="405.60" stroke="#1fc3c8" stroke-width="0.9" />
<text x="727.10" y="407.80" font-size="6.2" fill="#151515" textLength="30.70" lengthAdjust="spacingAndGlyphs" stroke-width="0.35" stroke="rgba(0,0,0,0.45)">CNCM 4575</text>
<circle cx="762.4" cy="406.1" r="2.6" fill="none" stroke="#4566b0" stroke-width="0.95"/>
<line x1="723.30" y1="412.00" x2="726.30" y2="412.00" stroke="#1fc3c8" stroke-width="0.9" />
<text x="727.10" y="414.20" font-size="6.2" fill="#151515" textLength="22.80" lengthAdjust="spacingAndGlyphs" stroke-width="0.35" stroke="rgba(0,0,0,0.45)">923/A1-1</text>
<circle cx="754.5" cy="412.5" r="2.6" fill="none" stroke="#4566b0" stroke-width="0.95"/>
<line x1="723.30" y1="418.70" x2="726.30" y2="418.70" stroke="#1fc3c8" stroke-width="0.9" />
<text x="727.10" y="420.90" font-size="6.2" fill="#151515" textLength="22.00" lengthAdjust="spacingAndGlyphs" stroke-width="0.35" stroke="rgba(0,0,0,0.45)">AHMP21</text>
<circle cx="753.7" cy="419.2" r="2.6" fill="none" stroke="#4566b0" stroke-width="0.95"/>
<line x1="715.20" y1="426.00" x2="715.00" y2="426.00" stroke="#1fc3c8" stroke-width="0.9" />
<text x="715.80" y="428.20" font-size="6.2" fill="#151515" textLength="24.80" lengthAdjust="spacingAndGlyphs" stroke-width="0.35" stroke="rgba(0,0,0,0.45)">923/B1-1</text>
<circle cx="745.2" cy="426.5" r="2.6" fill="none" stroke="#4566b0" stroke-width="0.95"/>
<line x1="715.20" y1="432.20" x2="715.00" y2="432.20" stroke="#1fc3c8" stroke-width="0.9" />
<text x="715.80" y="434.40" font-size="6.2" fill="#151515" textLength="30.30" lengthAdjust="spacingAndGlyphs" stroke-width="0.35" stroke="rgba(0,0,0,0.45)">943/B14-2</text>
<circle cx="750.7" cy="432.7" r="2.6" fill="none" stroke="#4566b0" stroke-width="0.95"/>
<line x1="711.90" y1="439.30" x2="715.00" y2="439.30" stroke="#1fc3c8" stroke-width="0.9" />
<text x="715.80" y="441.50" font-size="6.2" fill="#151515" textLength="22.80" lengthAdjust="spacingAndGlyphs" stroke-width="0.35" stroke="rgba(0,0,0,0.45)">943/30-2</text>
<circle cx="743.2" cy="439.8" r="2.6" fill="none" stroke="#4566b0" stroke-width="0.95"/>
<line x1="711.90" y1="445.90" x2="715.00" y2="445.90" stroke="#1fc3c8" stroke-width="0.9" />
<text x="715.80" y="448.10" font-size="6.2" fill="#151515" textLength="22.80" lengthAdjust="spacingAndGlyphs" stroke-width="0.35" stroke="rgba(0,0,0,0.45)">943/18-1</text>
<circle cx="743.2" cy="446.4" r="2.6" fill="none" stroke="#4566b0" stroke-width="0.95"/>
<line x1="711.90" y1="452.50" x2="715.00" y2="452.50" stroke="#1fc3c8" stroke-width="0.9" />
<text x="715.80" y="454.70" font-size="6.2" fill="#151515" textLength="12.10" lengthAdjust="spacingAndGlyphs" stroke-width="0.35" stroke="rgba(0,0,0,0.45)">L2/8</text>
<circle cx="732.5" cy="453.0" r="2.6" fill="none" stroke="#4566b0" stroke-width="0.95"/>
<line x1="711.90" y1="459.50" x2="715.00" y2="459.50" stroke="#1fc3c8" stroke-width="0.9" />
<text x="715.80" y="461.70" font-size="6.2" fill="#151515" textLength="23.60" lengthAdjust="spacingAndGlyphs" stroke-width="0.35" stroke="rgba(0,0,0,0.45)">943/32-1</text>
<circle cx="744.0" cy="460.0" r="2.6" fill="none" stroke="#4566b0" stroke-width="0.95"/>
<text x="688.60" y="314.80" font-size="9.4" text-anchor="middle" fill="#2c3a78" >I</text>
<text x="692.40" y="371.80" font-size="9.4" text-anchor="middle" fill="#2c3a78" textLength="9.60" lengthAdjust="spacingAndGlyphs" >IIa</text>
<text x="677.80" y="440.90" font-size="9.4" text-anchor="middle" fill="#2c3a78" textLength="10.30" lengthAdjust="spacingAndGlyphs" >IIb</text>
<circle cx="691.5" cy="469.7" r="2.9" fill="#3a62bb"/>
<text x="696.30" y="472.90" font-size="8.6" fill="#2b2b2b" textLength="25.20" lengthAdjust="spacingAndGlyphs" >Present</text>
<circle cx="734.5" cy="469.7" r="2.6" fill="none" stroke="#3a62bb" stroke-width="1"/>
<text x="738.70" y="472.90" font-size="8.6" fill="#2b2b2b" textLength="24.00" lengthAdjust="spacingAndGlyphs" >Absent</text>
<text x="327.40" y="488.80" font-size="12.5" font-weight="bold" fill="#000" >e</text>
<rect x="344.60" y="486.20" width="92.10" height="61.59" fill="#36b5f3" />
<rect x="344.60" y="547.79" width="92.10" height="44.05" fill="#7bd822" />
<text x="345.30" y="492.90" font-size="7.0" font-style="italic" fill="#1b3272" textLength="85.50" lengthAdjust="spacingAndGlyphs" >A0A1C7H380_9BACE/1-332</text>
<text x="345.30" y="501.67" font-size="7.0" font-style="italic" fill="#1b3272" textLength="83.70" lengthAdjust="spacingAndGlyphs" >A0A076IMG8_9BACT/1-378</text>
<text x="345.30" y="510.44" font-size="7.0" font-style="italic" fill="#1b3272" textLength="83.20" lengthAdjust="spacingAndGlyphs" >A0A076IRG9_9BACT/1-178</text>
<text x="345.30" y="519.21" font-size="7.0" font-style="italic" fill="#1b3272" textLength="82.20" lengthAdjust="spacingAndGlyphs" >A0A076IXU4_9BACT/1-336</text>
<text x="345.30" y="527.98" font-size="7.0" font-style="italic" fill="#1b3272" textLength="69.90" lengthAdjust="spacingAndGlyphs" >C7H1G6_FAEPA/1-201</text>
<text x="345.30" y="536.75" font-size="7.0" font-style="italic" fill="#1b3272" textLength="65.90" lengthAdjust="spacingAndGlyphs" >I9R3P9_9BACT/1-161</text>
<text x="345.30" y="545.52" font-size="7.0" font-style="italic" fill="#1b3272" textLength="90.30" lengthAdjust="spacingAndGlyphs" >A0A0P0M2W7_PHOVU/1-144</text>
<text x="345.30" y="554.29" font-size="7.0" font-style="italic" fill="#1e2a10" textLength="64.80" lengthAdjust="spacingAndGlyphs" >R6TIX3_9FIRM/1-418</text>
<text x="345.30" y="563.06" font-size="7.0" font-style="italic" fill="#1e2a10" textLength="67.20" lengthAdjust="spacingAndGlyphs" >R6CZ24_9FIRM/1-418</text>
<text x="345.30" y="571.83" font-size="7.0" font-style="italic" fill="#1e2a10" textLength="67.90" lengthAdjust="spacingAndGlyphs" >R5CY66_9FIRM/1-418</text>
<text x="345.30" y="580.60" font-size="7.0" font-style="italic" fill="#1e2a10" textLength="66.00" lengthAdjust="spacingAndGlyphs" >T5S060_9FIRM/1-419</text>
<text x="345.30" y="589.37" font-size="7.0" font-style="italic" fill="#1e2a10" textLength="84.50" lengthAdjust="spacingAndGlyphs" >A0A1C6JPG6_9FIRM/1-418</text>
<rect x="437.40" y="547.79" width="5.45" height="43.91" fill="#ea9150"/>
<rect x="442.79" y="486.40" width="5.45" height="8.83" fill="#1ea9b0"/>
<rect x="442.79" y="495.17" width="5.45" height="8.83" fill="#72a9e6"/>
<rect x="442.79" y="503.94" width="5.45" height="43.91" fill="#1ea9b0"/>
<rect x="442.79" y="547.79" width="5.45" height="43.91" fill="#72a9e6"/>
<rect x="448.18" y="539.02" width="5.45" height="8.83" fill="#c3c72c"/>
<rect x="448.18" y="547.79" width="5.45" height="43.91" fill="#f2261c"/>
<rect x="453.57" y="547.79" width="5.45" height="43.91" fill="#c3c72c"/>
<rect x="458.96" y="495.17" width="5.45" height="8.83" fill="#1ea9b0"/>
<rect x="458.96" y="503.94" width="5.45" height="87.76" fill="#72a9e6"/>
<rect x="464.35" y="486.40" width="5.45" height="17.60" fill="#72a9e6"/>
<rect x="464.35" y="503.94" width="5.45" height="17.60" fill="#ea9150"/>
<rect x="464.35" y="521.48" width="5.45" height="70.22" fill="#72a9e6"/>
<rect x="469.74" y="521.48" width="5.45" height="8.83" fill="#c3c72c"/>
<rect x="469.74" y="547.79" width="5.45" height="43.91" fill="#f2261c"/>
<rect x="475.13" y="539.02" width="5.45" height="8.83" fill="#ea9150"/>
<rect x="475.13" y="547.79" width="5.45" height="43.91" fill="#72a9e6"/>
<rect x="480.52" y="547.79" width="5.45" height="43.91" fill="#72a9e6"/>
<rect x="485.91" y="486.40" width="5.45" height="17.60" fill="#72a9e6"/>
<rect x="485.91" y="503.94" width="5.45" height="8.83" fill="#1ea9b0"/>
<rect x="485.91" y="512.71" width="5.45" height="8.83" fill="#72a9e6"/>
<rect x="485.91" y="530.25" width="5.45" height="8.83" fill="#22c43a"/>
<rect x="485.91" y="539.02" width="5.45" height="8.83" fill="#72a9e6"/>
<rect x="485.91" y="547.79" width="5.45" height="17.60" fill="#ea9150"/>
<rect x="485.91" y="582.87" width="5.45" height="8.83" fill="#ea9150"/>
<rect x="491.30" y="486.40" width="5.45" height="17.60" fill="#c3c72c"/>
<rect x="491.30" y="503.94" width="5.45" height="8.83" fill="#72a9e6"/>
<rect x="491.30" y="512.71" width="5.45" height="8.83" fill="#1ea9b0"/>
<rect x="491.30" y="521.48" width="5.45" height="17.60" fill="#72a9e6"/>
<rect x="491.30" y="539.02" width="5.45" height="8.83" fill="#ea9150"/>
<rect x="491.30" y="547.79" width="5.45" height="43.91" fill="#72a9e6"/>
<rect x="496.69" y="486.40" width="5.45" height="17.60" fill="#72a9e6"/>
<rect x="496.69" y="512.71" width="5.45" height="8.83" fill="#72a9e6"/>
<rect x="496.69" y="521.48" width="5.45" height="8.83" fill="#ea9150"/>
<rect x="496.69" y="530.25" width="5.45" height="8.83" fill="#1ea9b0"/>
<rect x="496.69" y="539.02" width="5.45" height="8.83" fill="#72a9e6"/>
<rect x="496.69" y="547.79" width="5.45" height="43.91" fill="#ea9150"/>
<rect x="502.08" y="521.48" width="5.45" height="8.83" fill="#ea9150"/>
<rect x="502.08" y="547.79" width="5.45" height="43.91" fill="#22c43a"/>
<rect x="507.47" y="547.79" width="5.45" height="43.91" fill="#ea9150"/>
<rect x="512.86" y="521.48" width="5.45" height="8.83" fill="#ea9150"/>
<rect x="512.86" y="547.79" width="5.45" height="43.91" fill="#ea9150"/>
<rect x="523.64" y="486.40" width="5.45" height="52.68" fill="#72a9e6"/>
<rect x="523.64" y="539.02" width="5.45" height="8.83" fill="#1ea9b0"/>
<rect x="523.64" y="547.79" width="5.45" height="43.91" fill="#72a9e6"/>
<rect x="529.03" y="547.79" width="5.45" height="43.91" fill="#c74fd2"/>
<rect x="534.42" y="503.94" width="5.45" height="8.83" fill="#c3c72c"/>
<rect x="534.42" y="539.02" width="5.45" height="8.83" fill="#ea9150"/>
<rect x="534.42" y="547.79" width="5.45" height="43.91" fill="#c3c72c"/>
<rect x="539.81" y="503.94" width="5.45" height="17.60" fill="#22c43a"/>
<rect x="539.81" y="530.25" width="5.45" height="17.60" fill="#22c43a"/>
<rect x="539.81" y="547.79" width="5.45" height="43.91" fill="#f2261c"/>
<rect x="545.20" y="547.79" width="5.45" height="43.91" fill="#72a9e6"/>
<rect x="550.59" y="547.79" width="5.45" height="43.91" fill="#72a9e6"/>
<rect x="555.98" y="486.40" width="5.45" height="8.83" fill="#72a9e6"/>
<rect x="555.98" y="512.71" width="5.45" height="26.37" fill="#72a9e6"/>
<rect x="555.98" y="539.02" width="5.45" height="8.83" fill="#1ea9b0"/>
<rect x="555.98" y="547.79" width="5.45" height="43.91" fill="#ea9150"/>
<rect x="561.37" y="486.40" width="5.45" height="17.60" fill="#72a9e6"/>
<rect x="561.37" y="503.94" width="5.45" height="8.83" fill="#ea9150"/>
<rect x="561.37" y="521.48" width="5.45" height="8.83" fill="#c3c72c"/>
<rect x="561.37" y="530.25" width="5.45" height="61.45" fill="#72a9e6"/>
<rect x="566.76" y="503.94" width="5.45" height="8.83" fill="#ea9150"/>
<rect x="566.76" y="530.25" width="5.45" height="8.83" fill="#c3c72c"/>
<rect x="566.76" y="539.02" width="5.45" height="52.68" fill="#ea9150"/>
<rect x="572.15" y="530.25" width="5.45" height="8.83" fill="#ea9150"/>
<rect x="577.54" y="486.40" width="5.45" height="8.83" fill="#ea9150"/>
<rect x="582.93" y="547.79" width="5.45" height="43.91" fill="#c3c72c"/>
<rect x="588.32" y="503.94" width="5.45" height="8.83" fill="#ea9150"/>
<rect x="588.32" y="530.25" width="5.45" height="8.83" fill="#ea9150"/>
<rect x="588.32" y="547.79" width="5.45" height="43.91" fill="#72a9e6"/>
<rect x="593.71" y="547.79" width="5.45" height="17.60" fill="#72a9e6"/>
<rect x="593.71" y="565.33" width="5.45" height="26.37" fill="#c3c72c"/>
<rect x="599.10" y="521.48" width="5.45" height="17.60" fill="#ea9150"/>
<rect x="599.10" y="547.79" width="5.45" height="43.91" fill="#72a9e6"/>
<rect x="604.49" y="486.40" width="5.45" height="8.83" fill="#72a9e6"/>
<rect x="604.49" y="495.17" width="5.45" height="8.83" fill="#ea9150"/>
<rect x="604.49" y="503.94" width="5.45" height="35.14" fill="#72a9e6"/>
<rect x="604.49" y="547.79" width="5.45" height="43.91" fill="#22c43a"/>
<rect x="609.88" y="530.25" width="5.45" height="8.83" fill="#ea9150"/>
<rect x="609.88" y="547.79" width="5.45" height="43.91" fill="#f2261c"/>
<rect x="620.66" y="486.40" width="5.45" height="43.91" fill="#72a9e6"/>
<rect x="620.66" y="539.02" width="5.45" height="52.68" fill="#72a9e6"/>
<rect x="626.05" y="495.17" width="5.45" height="8.83" fill="#c3c72c"/>
<rect x="626.05" y="503.94" width="5.45" height="8.83" fill="#72a9e6"/>
<rect x="626.05" y="512.71" width="5.45" height="8.83" fill="#1ea9b0"/>
<rect x="626.05" y="521.48" width="5.45" height="70.22" fill="#72a9e6"/>
<rect x="636.83" y="547.79" width="5.45" height="43.91" fill="#f2261c"/>
<rect x="642.22" y="547.79" width="5.45" height="43.91" fill="#72a9e6"/>
<rect x="647.61" y="547.79" width="5.45" height="43.91" fill="#ea9150"/>
<rect x="653.00" y="486.40" width="5.45" height="17.60" fill="#72a9e6"/>
<rect x="653.00" y="512.71" width="5.45" height="26.37" fill="#72a9e6"/>
<rect x="653.00" y="547.79" width="5.45" height="43.91" fill="#72a9e6"/>
<rect x="658.39" y="503.94" width="5.45" height="8.83" fill="#ea9150"/>
<rect x="658.39" y="521.48" width="5.45" height="8.83" fill="#c3c72c"/>
<rect x="658.39" y="547.79" width="5.45" height="26.37" fill="#22c43a"/>
<rect x="658.39" y="582.87" width="5.45" height="8.83" fill="#22c43a"/>
<rect x="663.78" y="486.40" width="5.45" height="8.83" fill="#ea9150"/>
<rect x="663.78" y="503.94" width="5.45" height="8.83" fill="#c3c72c"/>
<rect x="663.78" y="547.79" width="5.45" height="43.91" fill="#72a9e6"/>
<rect x="669.17" y="486.40" width="5.45" height="8.83" fill="#ea9150"/>
<rect x="669.17" y="547.79" width="5.45" height="43.91" fill="#c74fd2"/>
<rect x="674.56" y="486.40" width="5.45" height="8.83" fill="#22c43a"/>
<rect x="674.56" y="495.17" width="5.45" height="35.14" fill="#72a9e6"/>
<rect x="674.56" y="539.02" width="5.45" height="8.83" fill="#1ea9b0"/>
<rect x="674.56" y="547.79" width="5.45" height="43.91" fill="#c74fd2"/>
<rect x="679.95" y="512.71" width="5.45" height="8.83" fill="#c3c72c"/>
<rect x="679.95" y="547.79" width="5.45" height="26.37" fill="#72a9e6"/>
<rect x="679.95" y="582.87" width="5.45" height="8.83" fill="#72a9e6"/>
<rect x="685.34" y="495.17" width="5.45" height="8.83" fill="#ea9150"/>
<rect x="685.34" y="503.94" width="5.45" height="8.83" fill="#c74fd2"/>
<rect x="685.34" y="521.48" width="5.45" height="70.22" fill="#c74fd2"/>
<rect x="690.73" y="530.25" width="5.45" height="8.83" fill="#ea9150"/>
<rect x="690.73" y="547.79" width="5.45" height="43.91" fill="#72a9e6"/>
<rect x="696.12" y="486.40" width="5.45" height="8.83" fill="#1ea9b0"/>
<rect x="696.12" y="495.17" width="5.45" height="8.83" fill="#72a9e6"/>
<rect x="696.12" y="512.71" width="5.45" height="17.60" fill="#72a9e6"/>
<rect x="696.12" y="530.25" width="5.45" height="8.83" fill="#1ea9b0"/>
<rect x="696.12" y="547.79" width="5.45" height="43.91" fill="#72a9e6"/>
<rect x="701.51" y="547.79" width="5.45" height="43.91" fill="#c74fd2"/>
<rect x="706.90" y="486.40" width="5.45" height="8.83" fill="#ea9150"/>
<rect x="706.90" y="495.17" width="5.45" height="17.60" fill="#c3c72c"/>
<rect x="706.90" y="539.02" width="5.45" height="8.83" fill="#ea9150"/>
<rect x="706.90" y="547.79" width="5.45" height="43.91" fill="#72a9e6"/>
<rect x="712.29" y="495.17" width="5.45" height="8.83" fill="#72a9e6"/>
<rect x="712.29" y="512.71" width="5.45" height="35.14" fill="#72a9e6"/>
<rect x="712.29" y="547.79" width="5.45" height="43.91" fill="#22c43a"/>
<rect x="717.68" y="495.17" width="5.45" height="8.83" fill="#ea9150"/>
<rect x="717.68" y="547.79" width="5.45" height="43.91" fill="#c74fd2"/>
<rect x="723.07" y="486.40" width="5.45" height="17.60" fill="#72a9e6"/>
<rect x="723.07" y="512.71" width="5.45" height="8.83" fill="#72a9e6"/>
<rect x="723.07" y="530.25" width="5.45" height="61.45" fill="#72a9e6"/>
<rect x="728.46" y="486.40" width="5.45" height="17.60" fill="#1ea9b0"/>
<rect x="728.46" y="503.94" width="5.45" height="8.83" fill="#72a9e6"/>
<rect x="728.46" y="512.71" width="5.45" height="8.83" fill="#ea9150"/>
<rect x="728.46" y="530.25" width="5.45" height="61.45" fill="#72a9e6"/>
<rect x="733.85" y="486.40" width="5.45" height="8.83" fill="#72a9e6"/>
<rect x="733.85" y="495.17" width="5.45" height="8.83" fill="#1ea9b0"/>
<rect x="733.85" y="503.94" width="5.45" height="8.83" fill="#22c43a"/>
<rect x="733.85" y="512.71" width="5.45" height="8.83" fill="#72a9e6"/>
<rect x="733.85" y="521.48" width="5.45" height="8.83" fill="#ea9150"/>
<rect x="733.85" y="530.25" width="5.45" height="61.45" fill="#72a9e6"/>
<rect x="739.24" y="486.40" width="5.45" height="17.60" fill="#72a9e6"/>
<rect x="739.24" y="503.94" width="5.45" height="8.83" fill="#22c43a"/>
<rect x="739.24" y="512.71" width="5.45" height="17.60" fill="#72a9e6"/>
<rect x="739.24" y="530.25" width="5.45" height="8.83" fill="#22c43a"/>
<rect x="739.24" y="539.02" width="5.45" height="52.68" fill="#72a9e6"/>
<rect x="744.63" y="547.79" width="5.45" height="43.91" fill="#22c43a"/>
<rect x="750.02" y="547.79" width="5.45" height="43.91" fill="#22c43a"/>
<rect x="755.41" y="486.40" width="5.45" height="8.83" fill="#ea9150"/>
<rect x="755.41" y="547.79" width="5.45" height="43.91" fill="#72a9e6"/>
<rect x="760.80" y="486.40" width="5.45" height="8.83" fill="#ea9150"/>
<rect x="760.80" y="547.79" width="5.45" height="43.91" fill="#72a9e6"/>
<rect x="766.19" y="486.40" width="5.45" height="35.14" fill="#72a9e6"/>
<rect x="766.19" y="521.48" width="5.45" height="8.83" fill="#ea9150"/>
<rect x="766.19" y="530.25" width="5.45" height="8.83" fill="#72a9e6"/>
<rect x="766.19" y="547.79" width="5.45" height="43.91" fill="#72a9e6"/>
<rect x="771.58" y="547.79" width="5.45" height="43.91" fill="#72a9e6"/>
<rect x="776.97" y="547.79" width="5.45" height="43.91" fill="#f2261c"/>
<rect x="782.36" y="547.79" width="5.45" height="43.91" fill="#c74fd2"/>
<g><text x="440.09 445.48 450.87 456.26 461.65 467.04 472.43 477.82 483.21 488.60 493.99 499.38 504.77 510.16 515.56 520.95 526.34 531.73 537.12 542.50 547.89 553.28 558.68 564.07 569.46 574.85 580.24 585.62 591.01 596.41 601.79 607.19 612.58 617.97 623.36 628.75 634.13 639.52 644.92 650.30 655.70 661.09 666.48 671.87 677.25 682.64 688.03 693.43 698.81 704.21 709.60 714.99 720.38 725.76 731.16 736.54 741.94 747.32 752.72 758.11 763.50 768.88 774.27 779.67 785.05" y="492.90" font-size="7.0" text-anchor="middle" fill="#3a3a3a">VYSSRIRRYFPANDF-FHHMNNILIKQQQAKIFVVKYKEKIIGGSVCIYSQDDAYLWFSQQMKKT</text>
<text x="440.09 445.48 450.87 456.26 461.65 467.04 472.43 477.82 483.21 488.60 493.99 499.38 504.77 510.16 515.56 520.95 526.34 531.73 537.12 542.50 547.89 553.28 558.68 564.07 569.46 574.85 580.24 585.62 591.01 596.41 601.79 607.19 612.58 617.97 623.36 628.75 634.13 639.52 644.92 650.30 655.70 661.09 666.48 671.87 677.25 682.64 688.03 693.43 698.81 704.21 709.60 714.99 720.38 725.76 731.16 736.54 741.94 747.32 752.72 758.11 763.50 768.88 774.27 779.67 785.05" y="501.67" font-size="7.0" text-anchor="middle" fill="#3a3a3a">QINQYIKMYLPIVDLRMVTLVTDAEDKLVAVGISMPSLSEALRKAKGRLLPMGWYHLLKVLFLHK</text>
<text x="440.09 445.48 450.87 456.26 461.65 467.04 472.43 477.82 483.21 488.60 493.99 499.38 504.77 510.16 515.56 520.95 526.34 531.73 537.12 542.50 547.89 553.28 558.68 564.07 569.46 574.85 580.24 585.62 591.01 596.41 601.79 607.19 612.58 617.97 623.36 628.75 634.13 639.52 644.92 650.30 655.70 661.09 666.48 671.87 677.25 682.64 688.03 693.43 698.81 704.21 709.60 714.99 720.38 725.76 731.16 736.54 741.94 747.32 752.72 758.11 763.50 768.88 774.27 779.67 785.05" y="510.44" font-size="7.0" text-anchor="middle" fill="#3a3a3a">SYWTMGDFYYIEHFA-IDPSLRNGG--YGKRVLEMIKKQLKGPIVLEVEEPNDEMSTRRIHFYKR</text>
<text x="440.09 445.48 450.87 456.26 461.65 467.04 472.43 477.82 483.21 488.60 493.99 499.38 504.77 510.16 515.56 520.95 526.34 531.73 537.12 542.50 547.89 553.28 558.68 564.07 569.46 574.85 580.24 585.62 591.01 596.41 601.79 607.19 612.58 617.97 623.36 628.75 634.13 639.52 644.92 650.30 655.70 661.09 666.48 671.87 677.25 682.64 688.03 693.43 698.81 704.21 709.60 714.99 720.38 725.76 731.16 736.54 741.94 747.32 752.72 758.11 763.50 768.88 774.27 779.67 785.05" y="519.21" font-size="7.0" text-anchor="middle" fill="#3a3a3a">AFTVMGDDTLYIKEL-LADTDAVQDT-LLYEAAYIYKVQRMDYFIPSSADTLFLGMARVIRAEEL</text>
<text x="440.09 445.48 450.87 456.26 461.65 467.04 472.43 477.82 483.21 488.60 493.99 499.38 504.77 510.16 515.56 520.95 526.34 531.73 537.12 542.50 547.89 553.28 558.68 564.07 569.46 574.85 580.24 585.62 591.01 596.41 601.79 607.19 612.58 617.97 623.36 628.75 634.13 639.52 644.92 650.30 655.70 661.09 666.48 671.87 677.25 682.64 688.03 693.43 698.81 704.21 709.60 714.99 720.38 725.76 731.16 736.54 741.94 747.32 752.72 758.11 763.50 768.88 774.27 779.67 785.05" y="527.98" font-size="7.0" text-anchor="middle" fill="#3a3a3a">DYFAVLPQYRAGGIG-AALLAALPD--HEKGAQAILIEAECPEKAEDEAMAVRRLGFYARCGAKD</text>
<text x="440.09 445.48 450.87 456.26 461.65 467.04 472.43 477.82 483.21 488.60 493.99 499.38 504.77 510.16 515.56 520.95 526.34 531.73 537.12 542.50 547.89 553.28 558.68 564.07 569.46 574.85 580.24 585.62 591.01 596.41 601.79 607.19 612.58 617.97 623.36 628.75 634.13 639.52 644.92 650.30 655.70 661.09 666.48 671.87 677.25 682.64 688.03 693.43 698.81 704.21 709.60 714.99 720.38 725.76 731.16 736.54 741.94 747.32 752.72 758.11 763.50 768.88 774.27 779.67 785.05" y="536.75" font-size="7.0" text-anchor="middle" fill="#3a3a3a">CYAHLWKERTAYRYT-LETTVYLAPGYEGKGIGRELMERLIEECRRDGYRALIACVTEDNAASDA</text>
<text x="440.09 445.48 450.87 456.26 461.65 467.04 472.43 477.82 483.21 488.60 493.99 499.38 504.77 510.16 515.56 520.95 526.34 531.73 537.12 542.50 547.89 553.28 558.68 564.07 569.46 574.85 580.24 585.62 591.01 596.41 601.79 607.19 612.58 617.97 623.36 628.75 634.13 639.52 644.92 650.30 655.70 661.09 666.48 671.87 677.25 682.64 688.03 693.43 698.81 704.21 709.60 714.99 720.38 725.76 731.16 736.54 741.94 747.32 752.72 758.11 763.50 768.88 774.27 779.67 785.05" y="545.52" font-size="7.0" text-anchor="middle" fill="#3a3a3a">-YPAVLIGRLGVNLE-YQGTSSHVG-------RQLMAFIKDWFRHEDNKTGCRFIVVDAYNEEKI</text>
<text x="440.09 445.48 450.87 456.26 461.65 467.04 472.43 477.82 483.21 488.60 493.99 499.38 504.77 510.16 515.56 520.95 526.34 531.73 537.12 542.50 547.89 553.28 558.68 564.07 569.46 574.85 580.24 585.62 591.01 596.41 601.79 607.19 612.58 617.97 623.36 628.75 634.13 639.52 644.92 650.30 655.70 661.09 666.48 671.87 677.25 682.64 688.03 693.43 698.81 704.21 709.60 714.99 720.38 725.76 731.16 736.54 741.94 747.32 752.72 758.11 763.50 768.88 774.27 779.67 785.05" y="554.29" font-size="7.0" text-anchor="middle" fill="#3a3a3a">GLKPMAKLIGWGQGG-VDPKIMGVG--PVVASRNAMAKAGVTIDDIDLVEANEAFAAQSIAVARE</text>
<text x="440.09 445.48 450.87 456.26 461.65 467.04 472.43 477.82 483.21 488.60 493.99 499.38 504.77 510.16 515.56 520.95 526.34 531.73 537.12 542.50 547.89 553.28 558.68 564.07 569.46 574.85 580.24 585.62 591.01 596.41 601.79 607.19 612.58 617.97 623.36 628.75 634.13 639.52 644.92 650.30 655.70 661.09 666.48 671.87 677.25 682.64 688.03 693.43 698.81 704.21 709.60 714.99 720.38 725.76 731.16 736.54 741.94 747.32 752.72 758.11 763.50 768.88 774.27 779.67 785.05" y="563.06" font-size="7.0" text-anchor="middle" fill="#3a3a3a">GLKPMAKLIGWGQGG-VDPKIMGVG--PVVASRNAMKKAGVTIDDIDLIEANEAFAAQSIAVARE</text>
<text x="440.09 445.48 450.87 456.26 461.65 467.04 472.43 477.82 483.21 488.60 493.99 499.38 504.77 510.16 515.56 520.95 526.34 531.73 537.12 542.50 547.89 553.28 558.68 564.07 569.46 574.85 580.24 585.62 591.01 596.41 601.79 607.19 612.58 617.97 623.36 628.75 634.13 639.52 644.92 650.30 655.70 661.09 666.48 671.87 677.25 682.64 688.03 693.43 698.81 704.21 709.60 714.99 720.38 725.76 731.16 736.54 741.94 747.32 752.72 758.11 763.50 768.88 774.27 779.67 785.05" y="571.83" font-size="7.0" text-anchor="middle" fill="#3a3a3a">GLKPMAKLVSWGQGG-VDPKIMGVG--PVPASRAAMAKAGLTIDDIDLIEANEAFAAQSIAVARE</text>
<text x="440.09 445.48 450.87 456.26 461.65 467.04 472.43 477.82 483.21 488.60 493.99 499.38 504.77 510.16 515.56 520.95 526.34 531.73 537.12 542.50 547.89 553.28 558.68 564.07 569.46 574.85 580.24 585.62 591.01 596.41 601.79 607.19 612.58 617.97 623.36 628.75 634.13 639.52 644.92 650.30 655.70 661.09 666.48 671.87 677.25 682.64 688.03 693.43 698.81 704.21 709.60 714.99 720.38 725.76 731.16 736.54 741.94 747.32 752.72 758.11 763.50 768.88 774.27 779.67 785.05" y="580.60" font-size="7.0" text-anchor="middle" fill="#3a3a3a">GLKPMAKLVSWGQGG-VDPKIMGVG--PVPASRQAMEKAGLKIEDMDLIEANEAFAAQSIAVARE</text>
<text x="440.09 445.48 450.87 456.26 461.65 467.04 472.43 477.82 483.21 488.60 493.99 499.38 504.77 510.16 515.56 520.95 526.34 531.73 537.12 542.50 547.89 553.28 558.68 564.07 569.46 574.85 580.24 585.62 591.01 596.41 601.79 607.19 612.58 617.97 623.36 628.75 634.13 639.52 644.92 650.30 655.70 661.09 666.48 671.87 677.25 682.64 688.03 693.43 698.81 704.21 709.60 714.99 720.38 725.76 731.16 736.54 741.94 747.32 752.72 758.11 763.50 768.88 774.27 779.67 785.05" y="589.37" font-size="7.0" text-anchor="middle" fill="#3a3a3a">GLKPMAKLIGWGQGG-VDPKIMGVG--PVPASRQAMTKAGVTIDDIDLVEANEAFAAQSIAVARE</text></g>
<line x1="437.40" y1="486.30" x2="787.75" y2="486.30" stroke="#666" stroke-width="0.8" />
<line x1="461.65" y1="484.00" x2="461.65" y2="486.30" stroke="#666" stroke-width="0.8" />
<line x1="488.60" y1="484.00" x2="488.60" y2="486.30" stroke="#666" stroke-width="0.8" />
<line x1="515.56" y1="484.00" x2="515.56" y2="486.30" stroke="#666" stroke-width="0.8" />
<line x1="542.50" y1="484.00" x2="542.50" y2="486.30" stroke="#666" stroke-width="0.8" />
<line x1="569.46" y1="484.00" x2="569.46" y2="486.30" stroke="#666" stroke-width="0.8" />
<line x1="596.41" y1="484.00" x2="596.41" y2="486.30" stroke="#666" stroke-width="0.8" />
<line x1="623.36" y1="484.00" x2="623.36" y2="486.30" stroke="#666" stroke-width="0.8" />
<line x1="650.30" y1="484.00" x2="650.30" y2="486.30" stroke="#666" stroke-width="0.8" />
<line x1="677.25" y1="484.00" x2="677.25" y2="486.30" stroke="#666" stroke-width="0.8" />
<line x1="704.21" y1="484.00" x2="704.21" y2="486.30" stroke="#666" stroke-width="0.8" />
<line x1="731.16" y1="484.00" x2="731.16" y2="486.30" stroke="#666" stroke-width="0.8" />
<line x1="758.11" y1="484.00" x2="758.11" y2="486.30" stroke="#666" stroke-width="0.8" />
<line x1="785.05" y1="484.00" x2="785.05" y2="486.30" stroke="#666" stroke-width="0.8" />
<line x1="437.40" y1="547.79" x2="787.75" y2="547.79" stroke="#999" stroke-width="0.6" />
</svg>
</body></html>
